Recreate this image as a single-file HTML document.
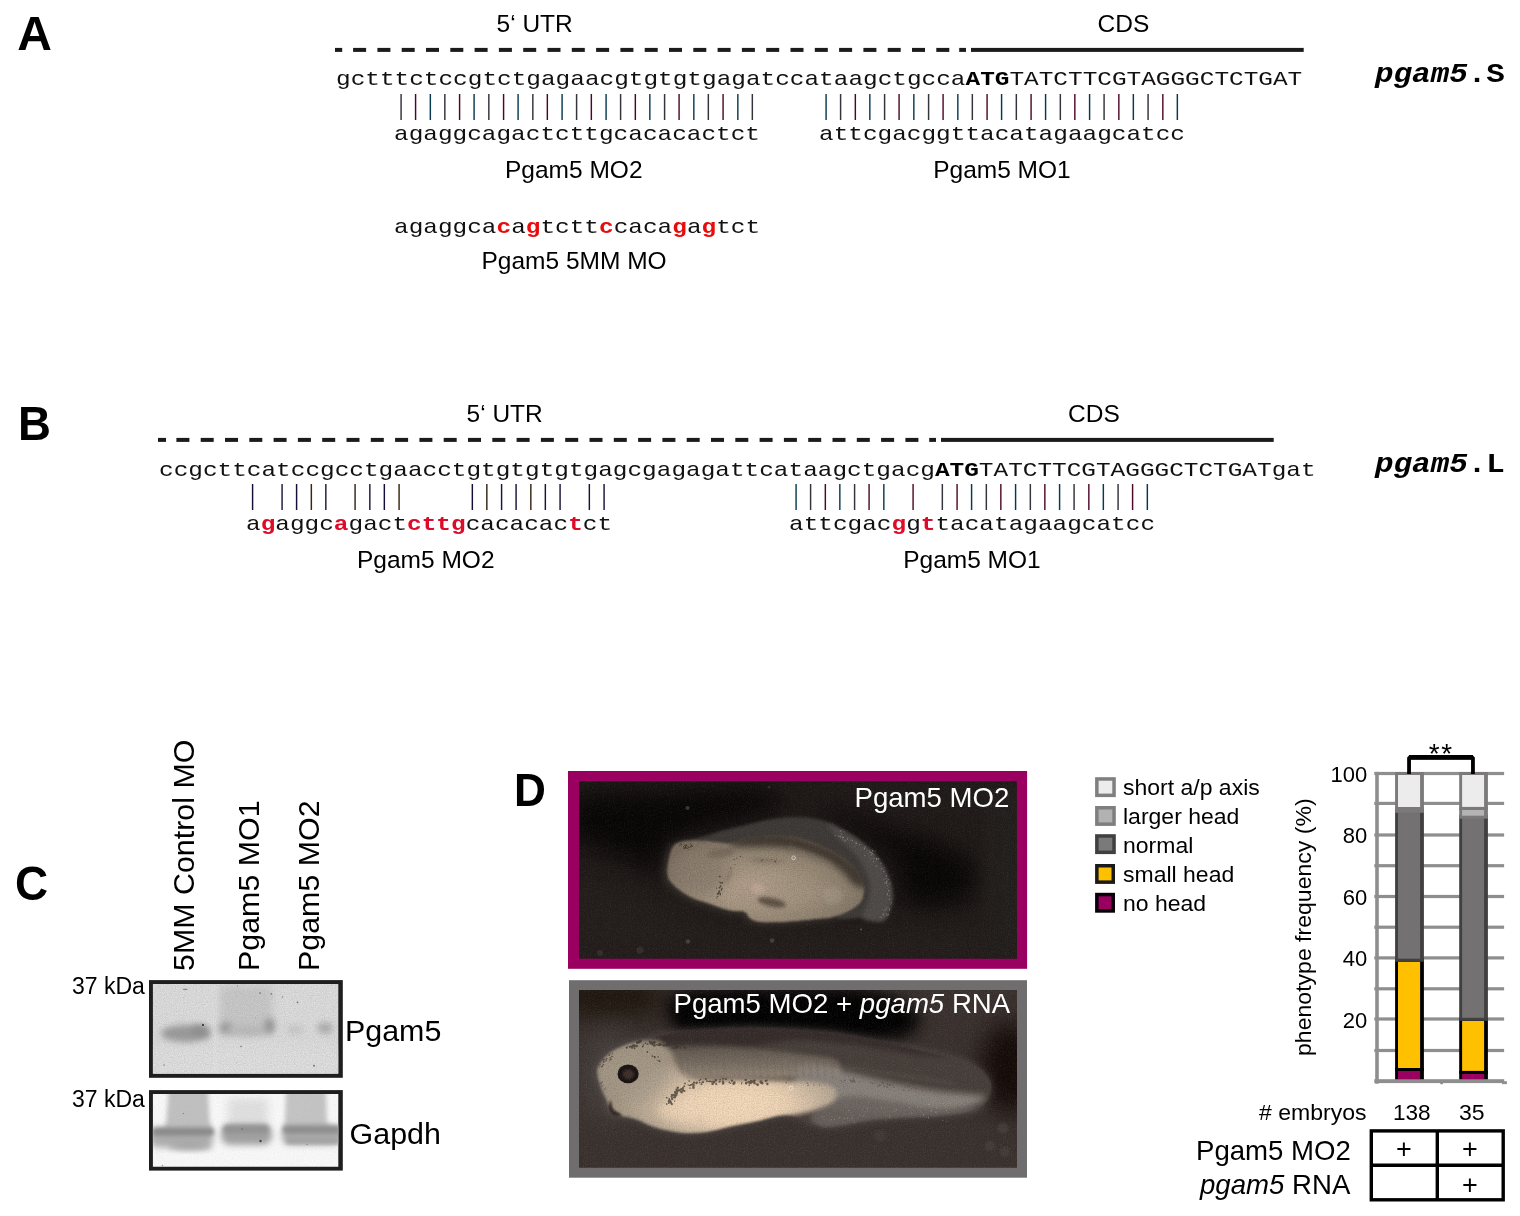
<!DOCTYPE html>
<html lang="en"><head><meta charset="utf-8"><title>Pgam5 morpholino figure</title>
<style>
html,body{margin:0;padding:0;background:#fff;}
#fig{position:relative;width:1520px;height:1216px;overflow:hidden;background:#fff;font-family:"Liberation Sans", sans-serif;color:#000;}
#fig svg{position:absolute;left:0;top:0;}
.t{position:absolute;white-space:pre;line-height:1;margin:0;padding:0;}
.m{font-family:"Liberation Mono", monospace;}
.pl{font-weight:bold;}
.rot{position:absolute;width:0;height:0;transform:rotate(-90deg);transform-origin:0 0;}
b.bk{font-weight:bold;color:#000;}
b.rd{font-weight:bold;color:#e80c0c;}
b.rb{font-weight:bold;color:#de0a28;}
.bars{transform-origin:0 0;}
.bars i{font-style:normal;}
.bars .g{color:#34343c;}
.bars .r{color:#4e0624;}
.bars .c{color:#063850;}
.bars .n{color:#120e38;}
.bars .b{color:#382814;}
.bars .v{color:#1a143c;}
.bars .sp{display:inline-block;width:14.64px;letter-spacing:0;}
</style></head><body><div id="fig">
<svg width="1520" height="1216" viewBox="0 0 1520 1216">
<defs>
<filter id="b0_6" x="-50%" y="-50%" width="200%" height="200%" color-interpolation-filters="sRGB"><feGaussianBlur stdDeviation="0.6"/></filter>
<filter id="b1" x="-50%" y="-50%" width="200%" height="200%" color-interpolation-filters="sRGB"><feGaussianBlur stdDeviation="1"/></filter>
<filter id="b1_5" x="-50%" y="-50%" width="200%" height="200%" color-interpolation-filters="sRGB"><feGaussianBlur stdDeviation="1.5"/></filter>
<filter id="b2" x="-50%" y="-50%" width="200%" height="200%" color-interpolation-filters="sRGB"><feGaussianBlur stdDeviation="2"/></filter>
<filter id="b3" x="-50%" y="-50%" width="200%" height="200%" color-interpolation-filters="sRGB"><feGaussianBlur stdDeviation="3"/></filter>
<filter id="b4" x="-50%" y="-50%" width="200%" height="200%" color-interpolation-filters="sRGB"><feGaussianBlur stdDeviation="4"/></filter>
<filter id="b6" x="-50%" y="-50%" width="200%" height="200%" color-interpolation-filters="sRGB"><feGaussianBlur stdDeviation="6"/></filter>
<filter id="b8" x="-50%" y="-50%" width="200%" height="200%" color-interpolation-filters="sRGB"><feGaussianBlur stdDeviation="8"/></filter>
<filter id="b12" x="-50%" y="-50%" width="200%" height="200%" color-interpolation-filters="sRGB"><feGaussianBlur stdDeviation="12"/></filter>
<filter id="b18" x="-50%" y="-50%" width="200%" height="200%" color-interpolation-filters="sRGB"><feGaussianBlur stdDeviation="18"/></filter>
<filter id="grain" x="0" y="0" width="100%" height="100%" color-interpolation-filters="sRGB"><feTurbulence type="fractalNoise" baseFrequency="0.9" numOctaves="2" seed="7" result="n"/><feColorMatrix in="n" type="matrix" values="0 0 0 0 0.5  0 0 0 0 0.5  0 0 0 0 0.5  0.9 0.9 0.9 0 -0.95"/></filter>
<filter id="grainD" x="0" y="0" width="100%" height="100%" color-interpolation-filters="sRGB"><feTurbulence type="fractalNoise" baseFrequency="0.85" numOctaves="2" seed="3" result="n"/><feColorMatrix in="n" type="matrix" values="0 0 0 0 0  0 0 0 0 0  0 0 0 0 0  1.2 1.2 1.2 0 -1.5"/></filter>
<filter id="grainL" x="0" y="0" width="100%" height="100%" color-interpolation-filters="sRGB"><feTurbulence type="fractalNoise" baseFrequency="0.95" numOctaves="2" seed="11" result="n"/><feColorMatrix in="n" type="matrix" values="0 0 0 0 1  0 0 0 0 1  0 0 0 0 1  1.3 1.3 1.3 0 -1.75"/></filter>
<filter id="blotch" x="0" y="0" width="100%" height="100%" color-interpolation-filters="sRGB"><feTurbulence type="fractalNoise" baseFrequency="0.05" numOctaves="2" seed="5" result="n"/><feColorMatrix in="n" type="matrix" values="0 0 0 0 0  0 0 0 0 0  0 0 0 0 0  1.6 1.6 0 0 -1.25"/></filter>
<clipPath id="cb1"><rect x="152.9" y="984" width="185.4" height="89.8"/></clipPath>
<clipPath id="cb2"><rect x="152.9" y="1094" width="185.4" height="72.7"/></clipPath>
<clipPath id="cp1"><rect x="579.3" y="781.2" width="437.5" height="177.4"/></clipPath>
<clipPath id="cp2"><rect x="579" y="989.9" width="438" height="177.8"/></clipPath>
<radialGradient id="gBody1" cx="0.45" cy="0.62" r="0.62"><stop offset="0" stop-color="#bfa894"/><stop offset="0.3" stop-color="#a99884"/><stop offset="0.65" stop-color="#948673"/><stop offset="1" stop-color="#7d7163"/></radialGradient>
<radialGradient id="gBody2" gradientUnits="userSpaceOnUse" cx="0" cy="0" r="1" gradientTransform="translate(738 1104) scale(125 52)"><stop offset="0" stop-color="#f6dbbc"/><stop offset="0.4" stop-color="#ecd2b4"/><stop offset="0.7" stop-color="#c4b29c"/><stop offset="1" stop-color="#a39583"/></radialGradient>
<linearGradient id="gTrunk" gradientUnits="userSpaceOnUse" x1="0" y1="1044" x2="0" y2="1082"><stop offset="0" stop-color="#5c5249"/><stop offset="0.5" stop-color="#7e7266"/><stop offset="1" stop-color="#a89a88"/></linearGradient>
</defs>
<rect x="149" y="980.1" width="193.8" height="97.7" fill="#1e1e1e"/>
<g clip-path="url(#cb1)">
<rect x="152" y="983" width="188" height="92" fill="#e1e1e1"/>
<rect x="150" y="1048" width="190" height="30" fill="#e4e4e4" filter="url(#b6)"/>
<rect x="212" y="984" width="6" height="90" fill="#e8e8e8" opacity="0.8" filter="url(#b2)"/>
<rect x="220" y="986" width="52" height="48" fill="#c4c4c4" opacity="0.75" filter="url(#b4)"/>
<ellipse cx="186" cy="1033.5" rx="25" ry="8.5" fill="#9c9c9c" filter="url(#b3)"/>
<ellipse cx="200" cy="1030" rx="9" ry="6" fill="#8a8a8a" opacity="0.7" filter="url(#b3)"/>
<ellipse cx="226" cy="1028" rx="7" ry="6" fill="#a0a0a0" filter="url(#b3)"/>
<ellipse cx="247" cy="1031" rx="20" ry="5" fill="#bcbcbc" filter="url(#b3)"/>
<ellipse cx="269.5" cy="1026" rx="5.5" ry="8" fill="#9a9a9a" filter="url(#b3)"/>
<ellipse cx="325" cy="1028" rx="8" ry="5.5" fill="#aeaeae" filter="url(#b3)"/>
<ellipse cx="295" cy="1030" rx="9" ry="5" fill="#cdcdcd" filter="url(#b3)"/>
<rect x="153" y="984" width="186" height="90" filter="url(#grain)" opacity="0.28"/>
<circle cx="203" cy="1025" r="1.1" fill="#2a2a2a"/>
<circle cx="260" cy="993" r="0.9" fill="#8a8a8a"/>
<circle cx="271.3" cy="994" r="1.0" fill="#8a8a8a"/>
<circle cx="282.5" cy="997" r="0.8" fill="#8a8a8a"/>
<circle cx="297.5" cy="1002.3" r="0.9" fill="#777"/>
<circle cx="241" cy="1046.5" r="0.8" fill="#777"/>
<circle cx="164" cy="1065" r="0.8" fill="#888"/>
<circle cx="314" cy="1065.7" r="0.9" fill="#666"/>
<circle cx="237.5" cy="986" r="0.8" fill="#999"/>
<circle cx="255.5" cy="1018" r="0.7" fill="#aaa"/>
<rect x="183" y="988.8" width="4.5" height="1.3" rx="0.6" fill="#888"/>
</g>
<rect x="149" y="1090.1" width="193.8" height="80.5" fill="#1e1e1e"/>
<g clip-path="url(#cb2)">
<rect x="152" y="1093" width="188" height="75" fill="#fbfbfb"/>
<path d="M168.5 1090 L208 1090 L209.5 1120 L213 1132 L163 1132 L166.5 1120Z" fill="#c2c2c2" filter="url(#b2)"/>
<path d="M286 1090 L326 1090 L327 1122 L331 1130 L283 1130 L285 1120Z" fill="#c6c6c6" filter="url(#b2)"/>
<rect x="228" y="1098" width="40" height="28" fill="#e2e2e2" filter="url(#b4)"/>
<rect x="150" y="1127.5" width="63" height="20" rx="8" fill="#b0b0b0" filter="url(#b3)"/>
<rect x="152" y="1128" width="62" height="7.5" rx="3.5" fill="#8a8a8a" filter="url(#b2)"/>
<ellipse cx="190" cy="1146" rx="22" ry="4" fill="#a6a6a6" filter="url(#b3)"/>
<rect x="221" y="1124" width="51" height="21" rx="9" fill="#a3a3a3" filter="url(#b3)"/>
<rect x="223" y="1125" width="46" height="8" rx="4" fill="#909090" opacity="0.85" filter="url(#b2)"/>
<rect x="282" y="1125" width="60" height="20" rx="8" fill="#adadad" filter="url(#b3)"/>
<rect x="283" y="1126" width="58" height="7.5" rx="3.5" fill="#8e8e8e" filter="url(#b2)"/>
<rect x="286" y="1138.5" width="54" height="5" rx="2.5" fill="#a2a2a2" filter="url(#b2)"/>
<rect x="153" y="1094" width="186" height="73" filter="url(#grain)" opacity="0.1"/>
<circle cx="260.5" cy="1141" r="1.2" fill="#444"/>
<circle cx="242" cy="1129" r="0.8" fill="#666"/>
<circle cx="183.3" cy="1113.5" r="0.7" fill="#888"/>
<circle cx="162.5" cy="1165.5" r="0.8" fill="#999"/>
<circle cx="307" cy="1144.5" r="0.7" fill="#888"/>
</g>
<rect x="568" y="771" width="459.1" height="197.8" fill="#99005f"/>
<g clip-path="url(#cp1)">
<rect x="579" y="781" width="438" height="178" fill="#201b19"/>
<path d="M574.1 797.2C588.2 789.2 628.5 792.7 658.8 791.2C689.1 789.7 734.5 786.1 755.7 788.2C776.8 790.2 784.9 798.8 785.9 803.3C786.9 807.8 773.8 811.4 761.7 815.4C749.6 819.4 726.4 824.0 713.3 827.5C700.2 831.0 691.1 833.1 683.0 836.6C674.9 840.1 668.9 842.6 664.9 848.7C660.8 854.7 664.9 870.9 658.8 872.9C652.7 874.9 638.6 864.8 628.5 860.8C618.4 856.8 607.3 852.2 598.3 848.7C589.2 845.2 578.1 848.2 574.1 839.6C570.0 831.0 559.9 805.3 574.1 797.2Z" fill="#090606" filter="url(#b12)"/>
<path d="M810.1 806.3C812.7 804.8 841.4 811.4 855.5 815.4C869.7 819.4 882.3 826.5 894.9 830.5C907.5 834.6 918.6 834.6 931.2 839.6C943.8 844.7 963.0 853.2 970.5 860.8C978.1 868.4 979.1 877.9 976.6 885.0C974.1 892.1 965.5 899.6 955.4 903.2C945.3 906.7 925.6 908.2 916.1 906.2C906.5 904.2 900.9 897.6 897.9 891.1C894.9 884.5 901.4 874.4 897.9 866.9C894.4 859.3 886.3 852.7 876.7 845.7C867.1 838.6 851.5 831.0 840.4 824.5C829.3 817.9 807.6 807.8 810.1 806.3Z" fill="#090606" filter="url(#b12)"/>
<path d="M577.1 885.0C585.7 872.9 613.4 887.0 628.5 891.1C643.7 895.1 649.7 902.7 667.9 909.2C686.0 915.8 713.8 926.4 737.5 930.4C761.2 934.4 782.9 933.4 810.1 933.4C837.4 933.4 875.7 930.9 900.9 930.4C926.2 929.9 941.3 931.9 961.5 930.4C981.6 928.9 1011.9 915.8 1022.0 921.3C1032.1 926.9 1096.1 956.6 1022.0 963.7C947.8 970.8 651.2 976.8 577.1 963.7C502.9 950.6 568.5 897.1 577.1 885.0Z" fill="#241e1c" filter="url(#b12)"/>
<rect x="985" y="790" width="40" height="170" fill="#231f1d" filter="url(#b8)"/>
<clipPath id="cbody1"><path d="M667.4 873.6C666.8 867.9 669.1 856.4 670.8 851.3C672.5 846.2 674.2 844.6 677.6 842.8C681.1 840.9 686.2 840.5 691.3 840.2C696.4 839.9 702.2 840.6 708.4 841.1C714.7 841.5 723.2 843.2 728.9 842.8C734.7 842.3 736.1 839.8 742.6 838.5C749.2 837.2 759.7 835.4 768.3 835.1C776.8 834.8 785.4 835.2 794.0 836.8C802.5 838.3 811.1 840.9 819.6 844.5C828.2 848.0 838.7 853.3 845.3 858.2C851.8 863.0 855.8 868.4 859.0 873.6C862.1 878.7 864.1 883.8 864.1 888.9C864.1 894.1 863.5 899.8 859.0 904.3C854.4 908.9 844.7 913.8 836.7 916.3C828.7 918.9 821.0 918.7 811.1 919.7C801.1 920.7 785.7 922.0 776.8 922.3C768.0 922.6 762.6 922.5 758.0 921.8C753.5 921.1 751.8 919.7 749.5 918.0C747.2 916.4 747.8 913.3 744.3 912.0C740.9 910.8 734.9 911.8 728.9 910.3C723.0 908.9 714.7 905.6 708.4 903.5C702.2 901.4 697.0 900.5 691.3 897.5C685.6 894.5 678.2 889.5 674.2 885.5C670.2 881.5 667.9 879.3 667.4 873.6Z"/></clipPath>
<path d="M667.4 873.6C666.8 867.9 669.1 856.4 670.8 851.3C672.5 846.2 674.2 844.6 677.6 842.8C681.1 840.9 686.2 840.5 691.3 840.2C696.4 839.9 702.2 840.6 708.4 841.1C714.7 841.5 723.2 843.2 728.9 842.8C734.7 842.3 736.1 839.8 742.6 838.5C749.2 837.2 759.7 835.4 768.3 835.1C776.8 834.8 785.4 835.2 794.0 836.8C802.5 838.3 811.1 840.9 819.6 844.5C828.2 848.0 838.7 853.3 845.3 858.2C851.8 863.0 855.8 868.4 859.0 873.6C862.1 878.7 864.1 883.8 864.1 888.9C864.1 894.1 863.5 899.8 859.0 904.3C854.4 908.9 844.7 913.8 836.7 916.3C828.7 918.9 821.0 918.7 811.1 919.7C801.1 920.7 785.7 922.0 776.8 922.3C768.0 922.6 762.6 922.5 758.0 921.8C753.5 921.1 751.8 919.7 749.5 918.0C747.2 916.4 747.8 913.3 744.3 912.0C740.9 910.8 734.9 911.8 728.9 910.3C723.0 908.9 714.7 905.6 708.4 903.5C702.2 901.4 697.0 900.5 691.3 897.5C685.6 894.5 678.2 889.5 674.2 885.5C670.2 881.5 667.9 879.3 667.4 873.6Z" fill="#6a6056" opacity="0.45" filter="url(#b4)" transform="translate(-3,1)"/>
<path d="M691.3 841.1C690.7 839.5 703.3 836.8 708.4 835.1C713.6 833.4 716.4 832.4 722.1 830.8C727.8 829.2 734.9 827.5 742.6 825.7C750.3 823.8 759.7 821.1 768.3 819.7C776.8 818.2 786.8 817.4 794.0 817.1C801.1 816.8 805.4 817.1 811.1 818.0C816.8 818.8 822.5 820.1 828.2 822.2C833.9 824.4 839.6 827.4 845.3 830.8C851.0 834.2 856.7 837.9 862.4 842.8C868.1 847.6 874.9 853.6 879.5 859.9C884.0 866.1 887.6 873.8 889.7 880.4C891.9 887.0 892.9 892.9 892.3 899.2C891.7 905.5 888.7 914.3 886.3 918.0C883.9 921.7 881.8 921.5 877.8 921.5C873.8 921.5 869.2 918.6 862.4 918.0C855.5 917.5 838.1 920.6 836.7 918.0C835.3 915.5 849.8 908.1 853.8 902.6C857.8 897.2 860.7 891.2 860.7 885.5C860.7 879.8 857.8 873.6 853.8 868.4C849.8 863.3 843.8 858.7 836.7 854.7C829.6 850.7 819.6 847.2 811.1 844.5C802.5 841.8 794.0 839.6 785.4 838.5C776.8 837.3 768.0 836.9 759.7 837.6C751.5 838.3 743.8 841.6 735.8 842.8C727.8 843.9 719.3 844.8 711.8 844.5C704.4 844.2 691.9 842.6 691.3 841.1Z" fill="#3e3a37" filter="url(#b1_5)"/>
<path d="M828.2 823.9C829.6 823.1 839.6 829.4 845.3 832.5C851.0 835.6 856.7 838.2 862.4 842.8C868.1 847.3 874.9 853.6 879.5 859.9C884.0 866.1 887.6 873.8 889.7 880.4C891.9 887.0 892.9 892.9 892.3 899.2C891.7 905.5 888.7 914.3 886.3 918.0C883.9 921.7 881.8 921.5 877.8 921.5C873.8 921.5 864.1 921.2 862.4 918.0C860.7 914.9 866.2 908.1 867.5 902.6C868.8 897.2 870.9 891.8 870.1 885.5C869.2 879.3 865.7 871.0 862.4 865.0C859.1 859.0 854.7 854.2 850.4 849.6C846.1 845.0 840.4 841.9 836.7 837.6C833.0 833.4 826.7 824.8 828.2 823.9Z" fill="#565250" opacity="0.75" filter="url(#b2)"/>
<path d="M879.1 858.7a0.4 0.4 0 1 0 0.8 0a0.4 0.4 0 1 0 -0.8 0M871.6 857.8a0.3 0.3 0 1 0 0.7 0a0.3 0.3 0 1 0 -0.7 0M845.5 840.4a0.4 0.4 0 1 0 0.7 0a0.4 0.4 0 1 0 -0.7 0M878.6 876.1a0.3 0.3 0 1 0 0.7 0a0.3 0.3 0 1 0 -0.7 0M880.9 917.5a0.3 0.3 0 1 0 0.7 0a0.3 0.3 0 1 0 -0.7 0M889.1 890.4a0.3 0.3 0 1 0 0.6 0a0.3 0.3 0 1 0 -0.6 0M875.1 850.9a0.5 0.5 0 1 0 1.0 0a0.5 0.5 0 1 0 -1.0 0M841.4 830.8a0.5 0.5 0 1 0 1.1 0a0.5 0.5 0 1 0 -1.1 0M855.9 843.5a0.6 0.6 0 1 0 1.1 0a0.6 0.6 0 1 0 -1.1 0M883.5 871.5a0.5 0.5 0 1 0 0.9 0a0.5 0.5 0 1 0 -0.9 0M890.2 883.0a0.4 0.4 0 1 0 0.7 0a0.4 0.4 0 1 0 -0.7 0M889.2 909.7a0.5 0.5 0 1 0 0.9 0a0.5 0.5 0 1 0 -0.9 0M851.7 840.6a0.6 0.6 0 1 0 1.2 0a0.6 0.6 0 1 0 -1.2 0M844.1 841.1a0.5 0.5 0 1 0 1.1 0a0.5 0.5 0 1 0 -1.1 0M851.6 843.6a0.3 0.3 0 1 0 0.7 0a0.3 0.3 0 1 0 -0.7 0M870.9 852.4a0.3 0.3 0 1 0 0.6 0a0.3 0.3 0 1 0 -0.6 0M886.6 915.3a0.5 0.5 0 1 0 1.1 0a0.5 0.5 0 1 0 -1.1 0M868.4 850.6a0.4 0.4 0 1 0 0.9 0a0.4 0.4 0 1 0 -0.9 0M840.7 834.1a0.5 0.5 0 1 0 1.0 0a0.5 0.5 0 1 0 -1.0 0M876.1 858.3a0.5 0.5 0 1 0 1.1 0a0.5 0.5 0 1 0 -1.1 0M887.0 885.6a0.3 0.3 0 1 0 0.7 0a0.3 0.3 0 1 0 -0.7 0M884.2 916.2a0.4 0.4 0 1 0 0.8 0a0.4 0.4 0 1 0 -0.8 0M881.7 869.2a0.3 0.3 0 1 0 0.6 0a0.3 0.3 0 1 0 -0.6 0M881.2 868.4a0.5 0.5 0 1 0 1.1 0a0.5 0.5 0 1 0 -1.1 0M842.9 837.4a0.5 0.5 0 1 0 1.1 0a0.5 0.5 0 1 0 -1.1 0M882.7 914.4a0.6 0.6 0 1 0 1.1 0a0.6 0.6 0 1 0 -1.1 0M837.8 836.2a0.4 0.4 0 1 0 0.7 0a0.4 0.4 0 1 0 -0.7 0M885.8 883.7a0.4 0.4 0 1 0 0.8 0a0.4 0.4 0 1 0 -0.8 0M887.4 886.1a0.4 0.4 0 1 0 0.9 0a0.4 0.4 0 1 0 -0.9 0M854.3 841.5a0.3 0.3 0 1 0 0.7 0a0.3 0.3 0 1 0 -0.7 0M886.2 909.1a0.5 0.5 0 1 0 0.9 0a0.5 0.5 0 1 0 -0.9 0M885.7 881.3a0.4 0.4 0 1 0 0.8 0a0.4 0.4 0 1 0 -0.8 0M872.9 861.6a0.5 0.5 0 1 0 0.9 0a0.5 0.5 0 1 0 -0.9 0M888.2 879.6a0.5 0.5 0 1 0 1.0 0a0.5 0.5 0 1 0 -1.0 0M839.7 830.4a0.4 0.4 0 1 0 0.8 0a0.4 0.4 0 1 0 -0.8 0M876.4 865.2a0.4 0.4 0 1 0 0.9 0a0.4 0.4 0 1 0 -0.9 0M864.5 846.9a0.6 0.6 0 1 0 1.2 0a0.6 0.6 0 1 0 -1.2 0M883.6 879.2a0.3 0.3 0 1 0 0.6 0a0.3 0.3 0 1 0 -0.6 0M885.8 878.3a0.4 0.4 0 1 0 0.7 0a0.4 0.4 0 1 0 -0.7 0M872.2 850.7a0.6 0.6 0 1 0 1.1 0a0.6 0.6 0 1 0 -1.1 0M842.4 840.8a0.3 0.3 0 1 0 0.6 0a0.3 0.3 0 1 0 -0.6 0M859.2 844.8a0.4 0.4 0 1 0 0.7 0a0.4 0.4 0 1 0 -0.7 0M876.0 859.2a0.5 0.5 0 1 0 0.9 0a0.5 0.5 0 1 0 -0.9 0M887.7 898.2a0.3 0.3 0 1 0 0.6 0a0.3 0.3 0 1 0 -0.6 0M847.1 839.1a0.5 0.5 0 1 0 0.9 0a0.5 0.5 0 1 0 -0.9 0M871.6 853.6a0.6 0.6 0 1 0 1.1 0a0.6 0.6 0 1 0 -1.1 0M842.0 836.7a0.5 0.5 0 1 0 1.0 0a0.5 0.5 0 1 0 -1.0 0M869.3 857.2a0.3 0.3 0 1 0 0.7 0a0.3 0.3 0 1 0 -0.7 0M877.7 866.3a0.3 0.3 0 1 0 0.7 0a0.3 0.3 0 1 0 -0.7 0M877.7 858.9a0.6 0.6 0 1 0 1.1 0a0.6 0.6 0 1 0 -1.1 0M870.9 850.0a0.3 0.3 0 1 0 0.6 0a0.3 0.3 0 1 0 -0.6 0M880.5 863.3a0.5 0.5 0 1 0 1.1 0a0.5 0.5 0 1 0 -1.1 0M847.9 838.7a0.3 0.3 0 1 0 0.7 0a0.3 0.3 0 1 0 -0.7 0M885.8 914.1a0.6 0.6 0 1 0 1.2 0a0.6 0.6 0 1 0 -1.2 0M865.9 851.1a0.4 0.4 0 1 0 0.9 0a0.4 0.4 0 1 0 -0.9 0M842.3 837.4a0.5 0.5 0 1 0 1.0 0a0.5 0.5 0 1 0 -1.0 0M850.4 840.0a0.6 0.6 0 1 0 1.2 0a0.6 0.6 0 1 0 -1.2 0M887.8 914.5a0.5 0.5 0 1 0 0.9 0a0.5 0.5 0 1 0 -0.9 0M884.5 909.8a0.5 0.5 0 1 0 1.0 0a0.5 0.5 0 1 0 -1.0 0M890.9 902.8a0.5 0.5 0 1 0 1.1 0a0.5 0.5 0 1 0 -1.1 0M887.4 893.2a0.4 0.4 0 1 0 0.8 0a0.4 0.4 0 1 0 -0.8 0M861.3 844.6a0.4 0.4 0 1 0 0.8 0a0.4 0.4 0 1 0 -0.8 0M886.0 882.0a0.5 0.5 0 1 0 1.0 0a0.5 0.5 0 1 0 -1.0 0M889.8 903.6a0.3 0.3 0 1 0 0.6 0a0.3 0.3 0 1 0 -0.6 0M888.5 907.9a0.4 0.4 0 1 0 0.8 0a0.4 0.4 0 1 0 -0.8 0M886.7 885.0a0.4 0.4 0 1 0 0.7 0a0.4 0.4 0 1 0 -0.7 0M863.8 848.9a0.5 0.5 0 1 0 1.0 0a0.5 0.5 0 1 0 -1.0 0M881.2 917.2a0.5 0.5 0 1 0 1.0 0a0.5 0.5 0 1 0 -1.0 0M886.6 894.7a0.5 0.5 0 1 0 1.0 0a0.5 0.5 0 1 0 -1.0 0M843.7 831.7a0.5 0.5 0 1 0 1.0 0a0.5 0.5 0 1 0 -1.0 0M855.7 842.6a0.4 0.4 0 1 0 0.8 0a0.4 0.4 0 1 0 -0.8 0M855.7 843.0a0.3 0.3 0 1 0 0.7 0a0.3 0.3 0 1 0 -0.7 0M888.9 899.9a0.3 0.3 0 1 0 0.6 0a0.3 0.3 0 1 0 -0.6 0M884.1 867.5a0.4 0.4 0 1 0 0.8 0a0.4 0.4 0 1 0 -0.8 0M847.2 837.8a0.4 0.4 0 1 0 0.8 0a0.4 0.4 0 1 0 -0.8 0M853.9 846.0a0.4 0.4 0 1 0 0.8 0a0.4 0.4 0 1 0 -0.8 0M886.1 875.7a0.5 0.5 0 1 0 0.9 0a0.5 0.5 0 1 0 -0.9 0M879.6 917.0a0.5 0.5 0 1 0 1.0 0a0.5 0.5 0 1 0 -1.0 0M882.1 909.6a0.3 0.3 0 1 0 0.7 0a0.3 0.3 0 1 0 -0.7 0M873.3 854.8a0.5 0.5 0 1 0 1.1 0a0.5 0.5 0 1 0 -1.1 0M861.3 849.1a0.4 0.4 0 1 0 0.8 0a0.4 0.4 0 1 0 -0.8 0M842.4 839.7a0.5 0.5 0 1 0 1.0 0a0.5 0.5 0 1 0 -1.0 0M855.8 841.6a0.3 0.3 0 1 0 0.7 0a0.3 0.3 0 1 0 -0.7 0M839.6 836.6a0.6 0.6 0 1 0 1.1 0a0.6 0.6 0 1 0 -1.1 0M870.5 859.5a0.4 0.4 0 1 0 0.8 0a0.4 0.4 0 1 0 -0.8 0M840.2 838.1a0.4 0.4 0 1 0 0.9 0a0.4 0.4 0 1 0 -0.9 0M867.5 853.8a0.5 0.5 0 1 0 1.1 0a0.5 0.5 0 1 0 -1.1 0M869.5 852.0a0.6 0.6 0 1 0 1.1 0a0.6 0.6 0 1 0 -1.1 0M890.9 898.9a0.3 0.3 0 1 0 0.6 0a0.3 0.3 0 1 0 -0.6 0M889.4 899.3a0.4 0.4 0 1 0 0.7 0a0.4 0.4 0 1 0 -0.7 0M875.5 866.6a0.5 0.5 0 1 0 1.0 0a0.5 0.5 0 1 0 -1.0 0M887.4 907.0a0.4 0.4 0 1 0 0.7 0a0.4 0.4 0 1 0 -0.7 0M839.7 831.1a0.5 0.5 0 1 0 1.1 0a0.5 0.5 0 1 0 -1.1 0M889.3 895.8a0.5 0.5 0 1 0 1.0 0a0.5 0.5 0 1 0 -1.0 0M834.5 835.5a0.5 0.5 0 1 0 1.0 0a0.5 0.5 0 1 0 -1.0 0M892.1 875.0a0.4 0.4 0 1 0 0.8 0a0.4 0.4 0 1 0 -0.8 0M867.5 850.6a0.4 0.4 0 1 0 0.9 0a0.4 0.4 0 1 0 -0.9 0M886.6 881.1a0.5 0.5 0 1 0 1.0 0a0.5 0.5 0 1 0 -1.0 0M886.3 883.0a0.4 0.4 0 1 0 0.7 0a0.4 0.4 0 1 0 -0.7 0M866.2 842.0a0.3 0.3 0 1 0 0.6 0a0.3 0.3 0 1 0 -0.6 0M889.3 909.2a0.4 0.4 0 1 0 0.7 0a0.4 0.4 0 1 0 -0.7 0M884.6 913.3a0.3 0.3 0 1 0 0.6 0a0.3 0.3 0 1 0 -0.6 0M870.5 855.1a0.6 0.6 0 1 0 1.2 0a0.6 0.6 0 1 0 -1.2 0M884.8 882.8a0.3 0.3 0 1 0 0.7 0a0.3 0.3 0 1 0 -0.7 0M888.2 890.9a0.5 0.5 0 1 0 1.1 0a0.5 0.5 0 1 0 -1.1 0M871.5 852.6a0.4 0.4 0 1 0 0.7 0a0.4 0.4 0 1 0 -0.7 0M855.1 843.6a0.3 0.3 0 1 0 0.7 0a0.3 0.3 0 1 0 -0.7 0M875.5 861.8a0.3 0.3 0 1 0 0.7 0a0.3 0.3 0 1 0 -0.7 0M842.2 838.2a0.3 0.3 0 1 0 0.7 0a0.3 0.3 0 1 0 -0.7 0M884.3 883.1a0.6 0.6 0 1 0 1.2 0a0.6 0.6 0 1 0 -1.2 0M860.5 842.9a0.4 0.4 0 1 0 0.8 0a0.4 0.4 0 1 0 -0.8 0M873.2 858.4a0.6 0.6 0 1 0 1.2 0a0.6 0.6 0 1 0 -1.2 0M888.9 883.8a0.4 0.4 0 1 0 0.7 0a0.4 0.4 0 1 0 -0.7 0M883.6 879.5a0.4 0.4 0 1 0 0.8 0a0.4 0.4 0 1 0 -0.8 0M884.0 910.7a0.3 0.3 0 1 0 0.7 0a0.3 0.3 0 1 0 -0.7 0M863.7 848.4a0.5 0.5 0 1 0 1.1 0a0.5 0.5 0 1 0 -1.1 0M886.6 888.7a0.4 0.4 0 1 0 0.8 0a0.4 0.4 0 1 0 -0.8 0M887.0 894.3a0.5 0.5 0 1 0 0.9 0a0.5 0.5 0 1 0 -0.9 0M887.1 895.1a0.4 0.4 0 1 0 0.8 0a0.4 0.4 0 1 0 -0.8 0M864.3 855.4a0.5 0.5 0 1 0 1.0 0a0.5 0.5 0 1 0 -1.0 0" fill="#c8c8cc" opacity="0.5"/>
<g filter="url(#b1)"><g clip-path="url(#cbody1)">
<path d="M667.4 873.6C666.8 867.9 669.1 856.4 670.8 851.3C672.5 846.2 674.2 844.6 677.6 842.8C681.1 840.9 686.2 840.5 691.3 840.2C696.4 839.9 702.2 840.6 708.4 841.1C714.7 841.5 723.2 843.2 728.9 842.8C734.7 842.3 736.1 839.8 742.6 838.5C749.2 837.2 759.7 835.4 768.3 835.1C776.8 834.8 785.4 835.2 794.0 836.8C802.5 838.3 811.1 840.9 819.6 844.5C828.2 848.0 838.7 853.3 845.3 858.2C851.8 863.0 855.8 868.4 859.0 873.6C862.1 878.7 864.1 883.8 864.1 888.9C864.1 894.1 863.5 899.8 859.0 904.3C854.4 908.9 844.7 913.8 836.7 916.3C828.7 918.9 821.0 918.7 811.1 919.7C801.1 920.7 785.7 922.0 776.8 922.3C768.0 922.6 762.6 922.5 758.0 921.8C753.5 921.1 751.8 919.7 749.5 918.0C747.2 916.4 747.8 913.3 744.3 912.0C740.9 910.8 734.9 911.8 728.9 910.3C723.0 908.9 714.7 905.6 708.4 903.5C702.2 901.4 697.0 900.5 691.3 897.5C685.6 894.5 678.2 889.5 674.2 885.5C670.2 881.5 667.9 879.3 667.4 873.6Z" fill="url(#gBody1)"/>
<path d="M728.9 839.3C732.9 837.2 750.3 834.2 759.7 833.4C769.1 832.5 776.8 832.9 785.4 834.2C794.0 835.5 802.5 838.2 811.1 841.1C819.6 843.9 829.0 847.0 836.7 851.3C844.4 855.6 852.1 861.0 857.2 866.7C862.4 872.4 867.8 882.4 867.5 885.5C867.2 888.7 860.4 888.4 855.5 885.5C850.7 882.7 845.3 873.4 838.4 868.4C831.6 863.4 823.0 859.0 814.5 855.6C805.9 852.2 796.2 849.4 787.1 847.9C778.0 846.4 768.3 846.8 759.7 846.5C751.2 846.2 740.9 847.4 735.8 846.2C730.7 845.0 725.0 841.5 728.9 839.3Z" fill="#3a322a" opacity="0.9" filter="url(#b3)"/>
<path d="M665.7 873.6C665.7 868.4 667.2 856.6 669.1 851.3C670.9 846.0 673.1 844.0 676.8 841.9C680.5 839.9 688.0 838.9 691.3 839.0C694.6 839.1 697.9 841.3 696.4 842.8C695.0 844.2 686.0 845.3 682.8 847.9C679.5 850.5 678.3 853.9 676.8 858.2C675.2 862.4 673.5 869.0 673.4 873.6C673.2 878.1 676.6 884.1 675.9 885.5C675.2 887.0 670.8 884.1 669.1 882.1C667.4 880.1 665.7 878.7 665.7 873.6Z" fill="#786a58" opacity="0.7" filter="url(#b4)"/>
<ellipse cx="698.2" cy="875.3" rx="30" ry="20" fill="#85776a" opacity="0.6" filter="url(#b6)"/>
<ellipse cx="785.4" cy="892.4" rx="50" ry="13" fill="#a39280" opacity="0.5" filter="url(#b4)"/>
<ellipse cx="720.4" cy="853.0" rx="13.7" ry="4.8" fill="#74685a" opacity="0.8" transform="rotate(-8 720.4 853.0)" filter="url(#b1_5)"/>
<ellipse cx="771.7" cy="902.3" rx="14.5" ry="4.4" fill="#54483e" opacity="0.85" transform="rotate(12 771.7 902.3)" filter="url(#b1_5)"/>
<ellipse cx="764.9" cy="860.7" rx="15.4" ry="2.7" fill="#807264" opacity="0.6" transform="rotate(5 764.9 860.7)" filter="url(#b1_5)"/>
<ellipse cx="728.9" cy="875.3" rx="2.1" ry="8.6" fill="#807264" opacity="0.6" transform="rotate(25 728.9 875.3)" filter="url(#b1_5)"/>
<ellipse cx="811.1" cy="856.4" rx="25.7" ry="3.1" fill="#84786a" opacity="0.5" transform="rotate(22 811.1 856.4)" filter="url(#b1_5)"/>
<ellipse cx="758.0" cy="888.9" rx="6.8" ry="6.0" fill="#c6ac9a" opacity="0.7" transform="rotate(0 758.0 888.9)" filter="url(#b1_5)"/>
<ellipse cx="833.3" cy="895.8" rx="10.3" ry="8.6" fill="#aa9c8a" opacity="0.5" transform="rotate(0 833.3 895.8)" filter="url(#b1_5)"/>
</g></g>
<path d="M685.1 847.0a0.5 0.5 0 1 0 1.1 0a0.5 0.5 0 1 0 -1.1 0M684.0 845.6a0.7 0.7 0 1 0 1.4 0a0.7 0.7 0 1 0 -1.4 0M691.0 846.2a0.9 0.9 0 1 0 1.8 0a0.9 0.9 0 1 0 -1.8 0M689.7 843.8a0.6 0.6 0 1 0 1.2 0a0.6 0.6 0 1 0 -1.2 0M680.0 843.9a0.5 0.5 0 1 0 1.1 0a0.5 0.5 0 1 0 -1.1 0M683.9 845.0a0.6 0.6 0 1 0 1.2 0a0.6 0.6 0 1 0 -1.2 0M688.1 849.4a0.5 0.5 0 1 0 1.0 0a0.5 0.5 0 1 0 -1.0 0M687.1 848.6a0.5 0.5 0 1 0 1.0 0a0.5 0.5 0 1 0 -1.0 0M688.6 847.4a0.5 0.5 0 1 0 1.1 0a0.5 0.5 0 1 0 -1.1 0M685.1 847.5a0.7 0.7 0 1 0 1.4 0a0.7 0.7 0 1 0 -1.4 0M685.7 845.0a0.8 0.8 0 1 0 1.7 0a0.8 0.8 0 1 0 -1.7 0M686.1 848.2a0.6 0.6 0 1 0 1.3 0a0.6 0.6 0 1 0 -1.3 0M689.8 846.7a0.6 0.6 0 1 0 1.3 0a0.6 0.6 0 1 0 -1.3 0M687.3 846.9a0.6 0.6 0 1 0 1.3 0a0.6 0.6 0 1 0 -1.3 0M687.7 846.9a0.5 0.5 0 1 0 1.1 0a0.5 0.5 0 1 0 -1.1 0M683.5 848.2a0.8 0.8 0 1 0 1.5 0a0.8 0.8 0 1 0 -1.5 0M682.9 846.6a0.5 0.5 0 1 0 1.1 0a0.5 0.5 0 1 0 -1.1 0M685.1 845.7a0.7 0.7 0 1 0 1.3 0a0.7 0.7 0 1 0 -1.3 0M679.1 845.3a0.6 0.6 0 1 0 1.3 0a0.6 0.6 0 1 0 -1.3 0M684.2 847.9a0.6 0.6 0 1 0 1.1 0a0.6 0.6 0 1 0 -1.1 0M690.9 845.0a0.6 0.6 0 1 0 1.3 0a0.6 0.6 0 1 0 -1.3 0M680.7 844.4a0.7 0.7 0 1 0 1.4 0a0.7 0.7 0 1 0 -1.4 0" fill="#3e362c" opacity="0.8" filter="url(#b0_6)"/>
<path d="M718.8 891.1a0.7 0.7 0 1 0 1.3 0a0.7 0.7 0 1 0 -1.3 0M721.7 883.1a0.6 0.6 0 1 0 1.1 0a0.6 0.6 0 1 0 -1.1 0M716.3 898.0a0.6 0.6 0 1 0 1.3 0a0.6 0.6 0 1 0 -1.3 0M720.1 886.8a0.7 0.7 0 1 0 1.4 0a0.7 0.7 0 1 0 -1.4 0M719.7 885.9a0.8 0.8 0 1 0 1.6 0a0.8 0.8 0 1 0 -1.6 0M718.8 887.7a0.5 0.5 0 1 0 1.1 0a0.5 0.5 0 1 0 -1.1 0M719.0 887.8a0.6 0.6 0 1 0 1.3 0a0.6 0.6 0 1 0 -1.3 0M717.1 896.4a0.7 0.7 0 1 0 1.4 0a0.7 0.7 0 1 0 -1.4 0M717.3 894.0a0.8 0.8 0 1 0 1.7 0a0.8 0.8 0 1 0 -1.7 0M721.4 888.4a0.7 0.7 0 1 0 1.5 0a0.7 0.7 0 1 0 -1.5 0M718.8 887.4a0.6 0.6 0 1 0 1.3 0a0.6 0.6 0 1 0 -1.3 0M721.5 883.1a0.5 0.5 0 1 0 1.1 0a0.5 0.5 0 1 0 -1.1 0M719.9 882.7a0.7 0.7 0 1 0 1.4 0a0.7 0.7 0 1 0 -1.4 0M719.6 894.3a0.8 0.8 0 1 0 1.5 0a0.8 0.8 0 1 0 -1.5 0M719.0 882.0a0.6 0.6 0 1 0 1.2 0a0.6 0.6 0 1 0 -1.2 0M719.1 876.6a0.8 0.8 0 1 0 1.5 0a0.8 0.8 0 1 0 -1.5 0M721.3 883.2a0.6 0.6 0 1 0 1.3 0a0.6 0.6 0 1 0 -1.3 0M718.0 892.4a0.9 0.9 0 1 0 1.7 0a0.9 0.9 0 1 0 -1.7 0M721.8 882.4a0.6 0.6 0 1 0 1.2 0a0.6 0.6 0 1 0 -1.2 0M716.6 893.9a0.9 0.9 0 1 0 1.8 0a0.9 0.9 0 1 0 -1.8 0M719.6 893.3a0.6 0.6 0 1 0 1.1 0a0.6 0.6 0 1 0 -1.1 0M720.8 889.5a0.6 0.6 0 1 0 1.3 0a0.6 0.6 0 1 0 -1.3 0M721.3 882.8a0.8 0.8 0 1 0 1.6 0a0.8 0.8 0 1 0 -1.6 0M716.0 888.2a0.6 0.6 0 1 0 1.3 0a0.6 0.6 0 1 0 -1.3 0M717.2 893.9a0.7 0.7 0 1 0 1.3 0a0.7 0.7 0 1 0 -1.3 0M720.7 890.2a0.7 0.7 0 1 0 1.4 0a0.7 0.7 0 1 0 -1.4 0" fill="#3e362c" opacity="0.8" filter="url(#b0_6)"/>
<path d="M734.8 864.8a0.5 0.5 0 1 0 1.0 0a0.5 0.5 0 1 0 -1.0 0M740.0 856.6a0.6 0.6 0 1 0 1.3 0a0.6 0.6 0 1 0 -1.3 0M766.4 859.9a0.6 0.6 0 1 0 1.2 0a0.6 0.6 0 1 0 -1.2 0M771.0 859.4a0.7 0.7 0 1 0 1.4 0a0.7 0.7 0 1 0 -1.4 0M760.7 860.7a0.7 0.7 0 1 0 1.4 0a0.7 0.7 0 1 0 -1.4 0M736.0 858.3a0.7 0.7 0 1 0 1.4 0a0.7 0.7 0 1 0 -1.4 0M781.1 860.3a0.4 0.4 0 1 0 0.8 0a0.4 0.4 0 1 0 -0.8 0M762.1 859.7a0.6 0.6 0 1 0 1.3 0a0.6 0.6 0 1 0 -1.3 0M729.9 867.9a0.7 0.7 0 1 0 1.4 0a0.7 0.7 0 1 0 -1.4 0M739.6 856.3a0.6 0.6 0 1 0 1.2 0a0.6 0.6 0 1 0 -1.2 0M733.4 859.5a0.6 0.6 0 1 0 1.1 0a0.6 0.6 0 1 0 -1.1 0M776.2 859.1a0.5 0.5 0 1 0 1.0 0a0.5 0.5 0 1 0 -1.0 0M774.4 861.4a0.8 0.8 0 1 0 1.5 0a0.8 0.8 0 1 0 -1.5 0M779.4 861.2a0.5 0.5 0 1 0 1.0 0a0.5 0.5 0 1 0 -1.0 0" fill="#4a4036" opacity="0.7" filter="url(#b0_6)"/>
<circle cx="793.6" cy="857.8" r="1.8" fill="none" stroke="#f2efe8" stroke-width="0.7"/>
<rect x="579" y="781" width="438" height="178" filter="url(#grainD)" opacity="0.13"/>
<rect x="579" y="781" width="438" height="178" filter="url(#grainL)" opacity="0.06"/>
<circle cx="687.5" cy="808" r="2.0" fill="#8a8c92" opacity="0.35" filter="url(#b0_6)"/>
<circle cx="769" cy="787" r="1.6" fill="#8a8c92" opacity="0.2" filter="url(#b0_6)"/>
<circle cx="688" cy="941.5" r="2.2" fill="#8a8c92" opacity="0.3" filter="url(#b0_6)"/>
<circle cx="861" cy="929.5" r="1.0" fill="#8a8c92" opacity="0.5" filter="url(#b0_6)"/>
<circle cx="600" cy="953" r="3" fill="#8a8c92" opacity="0.15" filter="url(#b0_6)"/>
<circle cx="640" cy="950" r="3.5" fill="#8a8c92" opacity="0.15" filter="url(#b0_6)"/>
<circle cx="772" cy="940.5" r="2.2" fill="#8a8c92" opacity="0.3" filter="url(#b0_6)"/>
</g>
<rect x="569" y="980.2" width="458" height="197.5" fill="#6f6d6d"/>
<g clip-path="url(#cp2)">
<rect x="579" y="989" width="438" height="180" fill="#3b322f"/>
<path d="M673.9 993.1C692.1 987.1 747.1 987.6 779.9 987.1C812.7 986.6 848.0 986.1 870.7 990.1C893.4 994.1 909.0 1004.2 916.1 1011.3C923.1 1018.4 920.6 1027.2 913.0 1032.5C905.5 1037.8 887.8 1042.3 870.7 1043.1C853.5 1043.8 830.3 1038.5 810.1 1037.0C790.0 1035.5 768.8 1034.0 749.6 1034.0C730.4 1034.0 708.2 1038.8 695.1 1037.0C682.0 1035.3 674.4 1030.7 670.9 1023.4C667.4 1016.1 655.8 999.2 673.9 993.1Z" fill="#030202" filter="url(#b8)"/>
<ellipse cx="1010" cy="1068" rx="30" ry="46" fill="#150b09" filter="url(#b12)"/>
<rect x="560" y="975" width="100" height="42" fill="#20170f" filter="url(#b12)"/>
<ellipse cx="610" cy="1075" rx="30" ry="45" fill="#4a4340" opacity="0.8" filter="url(#b12)"/>
<clipPath id="cbody2"><path d="M597.0 1073.0C596.8 1068.8 598.0 1066.3 600.4 1062.8C602.8 1059.2 606.5 1054.9 611.5 1051.6C616.5 1048.4 623.8 1045.4 630.3 1043.1C636.9 1040.8 643.4 1039.8 650.8 1038.0C658.3 1036.1 665.4 1033.5 674.8 1032.0C684.2 1030.5 694.7 1029.6 707.3 1028.9C719.8 1028.2 738.1 1027.8 750.1 1027.7C762.0 1027.6 766.4 1027.9 779.1 1028.6C791.9 1029.2 813.2 1030.3 826.4 1031.6C839.5 1032.9 847.4 1034.5 858.0 1036.3C868.5 1038.2 879.0 1040.3 889.5 1042.6C900.1 1045.0 910.6 1048.0 921.1 1050.5C931.6 1053.0 943.5 1055.0 952.7 1057.6C961.9 1060.3 970.3 1062.8 976.4 1066.3C982.4 1069.9 986.6 1074.7 989.0 1079.0C991.4 1083.2 991.6 1087.1 990.6 1091.6C989.5 1096.1 986.4 1102.4 982.7 1105.8C979.0 1109.2 976.1 1110.4 968.5 1112.1C960.9 1113.8 947.4 1115.1 936.9 1116.1C926.4 1117.0 915.8 1117.0 905.3 1117.6C894.8 1118.3 883.0 1119.0 873.7 1120.0C864.5 1121.1 857.4 1122.8 850.1 1124.0C842.7 1125.1 834.8 1126.8 829.5 1127.1C824.3 1127.4 822.2 1126.5 818.5 1125.5C814.8 1124.6 811.4 1123.2 807.4 1121.6C803.5 1120.0 799.5 1117.0 794.8 1116.1C790.1 1115.1 785.2 1115.0 779.1 1115.8C773.1 1116.6 766.3 1119.2 758.6 1120.9C750.9 1122.6 741.5 1124.2 733.0 1126.1C724.4 1127.9 715.8 1130.9 707.3 1132.0C698.7 1133.2 690.2 1133.6 681.6 1132.9C673.1 1132.2 663.7 1130.0 656.0 1127.8C648.3 1125.5 641.4 1121.2 635.4 1119.2C629.5 1117.2 624.2 1116.8 620.1 1115.8C615.9 1114.8 612.8 1115.5 610.6 1113.2C608.5 1110.9 608.8 1106.2 607.2 1102.1C605.7 1098.0 602.9 1093.3 601.2 1088.4C599.5 1083.6 597.1 1077.3 597.0 1073.0Z"/></clipPath>
<path d="M597.0 1073.0C596.8 1068.8 598.0 1066.3 600.4 1062.8C602.8 1059.2 606.5 1054.9 611.5 1051.6C616.5 1048.4 623.8 1045.4 630.3 1043.1C636.9 1040.8 643.4 1039.8 650.8 1038.0C658.3 1036.1 665.4 1033.5 674.8 1032.0C684.2 1030.5 694.7 1029.6 707.3 1028.9C719.8 1028.2 738.1 1027.8 750.1 1027.7C762.0 1027.6 766.4 1027.9 779.1 1028.6C791.9 1029.2 813.2 1030.3 826.4 1031.6C839.5 1032.9 847.4 1034.5 858.0 1036.3C868.5 1038.2 879.0 1040.3 889.5 1042.6C900.1 1045.0 910.6 1048.0 921.1 1050.5C931.6 1053.0 943.5 1055.0 952.7 1057.6C961.9 1060.3 970.3 1062.8 976.4 1066.3C982.4 1069.9 986.6 1074.7 989.0 1079.0C991.4 1083.2 991.6 1087.1 990.6 1091.6C989.5 1096.1 986.4 1102.4 982.7 1105.8C979.0 1109.2 976.1 1110.4 968.5 1112.1C960.9 1113.8 947.4 1115.1 936.9 1116.1C926.4 1117.0 915.8 1117.0 905.3 1117.6C894.8 1118.3 883.0 1119.0 873.7 1120.0C864.5 1121.1 857.4 1122.8 850.1 1124.0C842.7 1125.1 834.8 1126.8 829.5 1127.1C824.3 1127.4 822.2 1126.5 818.5 1125.5C814.8 1124.6 811.4 1123.2 807.4 1121.6C803.5 1120.0 799.5 1117.0 794.8 1116.1C790.1 1115.1 785.2 1115.0 779.1 1115.8C773.1 1116.6 766.3 1119.2 758.6 1120.9C750.9 1122.6 741.5 1124.2 733.0 1126.1C724.4 1127.9 715.8 1130.9 707.3 1132.0C698.7 1133.2 690.2 1133.6 681.6 1132.9C673.1 1132.2 663.7 1130.0 656.0 1127.8C648.3 1125.5 641.4 1121.2 635.4 1119.2C629.5 1117.2 624.2 1116.8 620.1 1115.8C615.9 1114.8 612.8 1115.5 610.6 1113.2C608.5 1110.9 608.8 1106.2 607.2 1102.1C605.7 1098.0 602.9 1093.3 601.2 1088.4C599.5 1083.6 597.1 1077.3 597.0 1073.0Z" fill="#8a8480" opacity="0.4" filter="url(#b4)"/>
<g filter="url(#b1)"><g clip-path="url(#cbody2)">
<path d="M597.0 1073.0C596.8 1068.8 598.0 1066.3 600.4 1062.8C602.8 1059.2 606.5 1054.9 611.5 1051.6C616.5 1048.4 623.8 1045.4 630.3 1043.1C636.9 1040.8 643.4 1039.8 650.8 1038.0C658.3 1036.1 665.4 1033.5 674.8 1032.0C684.2 1030.5 694.7 1029.6 707.3 1028.9C719.8 1028.2 738.1 1027.8 750.1 1027.7C762.0 1027.6 766.4 1027.9 779.1 1028.6C791.9 1029.2 813.2 1030.3 826.4 1031.6C839.5 1032.9 847.4 1034.5 858.0 1036.3C868.5 1038.2 879.0 1040.3 889.5 1042.6C900.1 1045.0 910.6 1048.0 921.1 1050.5C931.6 1053.0 943.5 1055.0 952.7 1057.6C961.9 1060.3 970.3 1062.8 976.4 1066.3C982.4 1069.9 986.6 1074.7 989.0 1079.0C991.4 1083.2 991.6 1087.1 990.6 1091.6C989.5 1096.1 986.4 1102.4 982.7 1105.8C979.0 1109.2 976.1 1110.4 968.5 1112.1C960.9 1113.8 947.4 1115.1 936.9 1116.1C926.4 1117.0 915.8 1117.0 905.3 1117.6C894.8 1118.3 883.0 1119.0 873.7 1120.0C864.5 1121.1 857.4 1122.8 850.1 1124.0C842.7 1125.1 834.8 1126.8 829.5 1127.1C824.3 1127.4 822.2 1126.5 818.5 1125.5C814.8 1124.6 811.4 1123.2 807.4 1121.6C803.5 1120.0 799.5 1117.0 794.8 1116.1C790.1 1115.1 785.2 1115.0 779.1 1115.8C773.1 1116.6 766.3 1119.2 758.6 1120.9C750.9 1122.6 741.5 1124.2 733.0 1126.1C724.4 1127.9 715.8 1130.9 707.3 1132.0C698.7 1133.2 690.2 1133.6 681.6 1132.9C673.1 1132.2 663.7 1130.0 656.0 1127.8C648.3 1125.5 641.4 1121.2 635.4 1119.2C629.5 1117.2 624.2 1116.8 620.1 1115.8C615.9 1114.8 612.8 1115.5 610.6 1113.2C608.5 1110.9 608.8 1106.2 607.2 1102.1C605.7 1098.0 602.9 1093.3 601.2 1088.4C599.5 1083.6 597.1 1077.3 597.0 1073.0Z" fill="#483f3b"/>
<path d="M644.0 1037.1C647.1 1034.5 664.2 1031.9 674.8 1030.3C685.3 1028.6 694.7 1027.9 707.3 1027.2C719.8 1026.5 738.1 1026.0 750.1 1026.0C762.0 1025.9 766.4 1026.2 779.1 1026.8C791.9 1027.5 813.2 1028.7 826.4 1030.0C839.5 1031.3 847.4 1032.9 858.0 1034.7C868.5 1036.6 879.0 1038.7 889.5 1041.1C900.1 1043.4 911.1 1046.6 921.1 1048.9C931.1 1051.3 949.5 1054.2 949.5 1055.3C949.5 1056.3 931.1 1056.2 921.1 1055.3C911.1 1054.3 900.1 1051.5 889.5 1049.7C879.0 1048.0 868.5 1046.3 858.0 1045.0C847.4 1043.7 836.9 1042.7 826.4 1041.8C815.8 1041.0 807.5 1039.1 794.8 1039.8C782.1 1040.5 763.2 1045.3 750.1 1046.0C736.9 1046.8 727.2 1044.6 715.8 1044.3C704.4 1044.0 691.6 1044.1 681.6 1044.3C671.7 1044.5 662.2 1046.9 656.0 1045.7C649.7 1044.5 640.9 1039.7 644.0 1037.1Z" fill="#362d2b" opacity="0.95" filter="url(#b2)"/>
<path d="M667.9 1049.1C673.7 1046.5 687.9 1047.7 698.7 1047.4C709.6 1047.1 721.5 1046.9 733.0 1047.4C744.4 1047.8 755.8 1048.8 767.2 1049.9C778.6 1051.1 790.0 1052.5 801.4 1054.2C812.8 1055.9 829.3 1056.5 835.6 1060.2C841.9 1063.9 843.3 1073.7 839.0 1076.4C834.7 1079.2 820.5 1076.2 809.9 1076.4C799.4 1076.7 788.5 1077.9 775.7 1078.2C762.9 1078.4 745.8 1078.2 733.0 1078.2C720.1 1078.2 708.4 1078.4 698.7 1078.2C689.0 1077.9 680.5 1079.0 674.8 1076.4C669.1 1073.9 665.7 1067.3 664.5 1062.8C663.4 1058.2 662.2 1051.6 667.9 1049.1Z" fill="url(#gTrunk)" opacity="0.97" filter="url(#b2)"/>
<path d="M802.7 1066.3C810.6 1064.5 827.7 1068.4 842.2 1071.1C856.6 1073.7 873.7 1078.8 889.5 1082.1C905.3 1085.4 922.4 1088.7 936.9 1090.8C951.4 1092.9 968.2 1093.6 976.4 1094.7C984.5 1095.9 987.2 1095.8 985.9 1097.9C984.5 1100.0 976.6 1105.0 968.5 1107.4C960.3 1109.7 950.1 1111.2 936.9 1112.1C923.7 1113.0 905.3 1113.4 889.5 1112.9C873.7 1112.4 855.3 1111.5 842.2 1109.0C829.0 1106.5 818.5 1102.4 810.6 1097.9C802.7 1093.4 796.1 1087.4 794.8 1082.1C793.5 1076.8 794.8 1068.2 802.7 1066.3Z" fill="#8e8680" opacity="0.95" filter="url(#b3)"/>
<path d="M810.6 1116.8C811.9 1113.2 819.8 1107.6 826.4 1104.2C833.0 1100.8 839.5 1096.8 850.1 1096.3C860.6 1095.8 875.1 1099.0 889.5 1101.1C904.0 1103.2 922.4 1107.6 936.9 1109.0C951.4 1110.3 971.1 1108.3 976.4 1109.0C981.6 1109.6 975.1 1111.6 968.5 1112.9C961.9 1114.2 947.4 1115.9 936.9 1116.8C926.4 1117.8 915.8 1117.8 905.3 1118.4C894.8 1119.1 883.0 1119.7 873.7 1120.8C864.5 1121.8 857.4 1123.6 850.1 1124.7C842.7 1125.9 834.8 1127.6 829.5 1127.9C824.3 1128.2 821.6 1128.2 818.5 1126.3C815.3 1124.5 809.3 1120.5 810.6 1116.8Z" fill="#6c6460" opacity="0.9" filter="url(#b2)"/>
<path d="M595.3 1073.0C595.1 1068.6 596.1 1065.8 598.7 1061.9C601.2 1058.1 605.4 1053.2 610.6 1049.9C615.9 1046.7 624.2 1043.9 630.3 1042.2C636.4 1040.6 642.3 1040.2 647.4 1040.2C652.6 1040.2 657.1 1040.2 661.1 1042.2C665.1 1044.3 668.8 1048.5 671.4 1052.5C673.9 1056.5 673.7 1062.1 676.5 1066.2C679.4 1070.3 681.9 1075.0 688.5 1077.3C695.0 1079.6 705.6 1079.4 715.8 1079.9C726.1 1080.3 738.7 1079.7 750.1 1079.9C761.5 1080.0 772.9 1080.2 784.3 1080.7C795.7 1081.2 809.9 1081.7 818.5 1082.9C827.0 1084.2 833.0 1085.5 835.6 1088.4C838.2 1091.3 836.7 1097.0 833.9 1100.4C831.0 1103.8 824.2 1106.7 818.5 1108.9C812.8 1111.2 806.2 1112.7 799.7 1114.1C793.1 1115.5 786.0 1116.1 779.1 1117.5C772.3 1118.9 766.3 1120.9 758.6 1122.6C750.9 1124.3 741.5 1125.9 733.0 1127.8C724.4 1129.6 715.8 1132.6 707.3 1133.8C698.7 1134.9 690.2 1135.3 681.6 1134.6C673.1 1133.9 663.7 1131.8 656.0 1129.5C648.3 1127.2 641.4 1122.9 635.4 1120.9C629.5 1118.9 624.5 1118.6 620.1 1117.5C615.6 1116.4 611.4 1116.6 608.9 1114.1C606.5 1111.5 607.1 1106.4 605.5 1102.1C603.9 1097.8 601.2 1093.3 599.5 1088.4C597.8 1083.6 595.4 1077.4 595.3 1073.0Z" fill="url(#gBody2)" filter="url(#b2)"/>
<ellipse cx="719.3" cy="1107.2" rx="62" ry="16" fill="#f6dbbc" opacity="0.6" filter="url(#b4)" transform="rotate(-4 719.3 1107.2)"/>
<ellipse cx="635.4" cy="1076.4" rx="30" ry="26" fill="#a89c8b" opacity="0.6" filter="url(#b6)"/>
<path d="M685.1 1047.0C685.1 1046.6 705.0 1048.2 715.8 1048.7C726.7 1049.3 738.7 1049.6 750.1 1050.4C761.5 1051.3 770.0 1052.0 784.3 1053.9C798.5 1055.7 827.0 1059.9 835.6 1061.6C844.1 1063.3 844.1 1065.0 835.6 1064.1C827.0 1063.3 798.5 1058.3 784.3 1056.4C770.0 1054.6 761.5 1053.9 750.1 1053.0C738.7 1052.1 726.7 1052.1 715.8 1051.1C705.0 1050.1 685.1 1047.4 685.1 1047.0Z" fill="#6a645c" opacity="0.5" filter="url(#b1_5)"/>
<path d="M834.3 1063.2C840.8 1063.7 860.6 1067.4 873.7 1069.5C886.9 1071.6 900.1 1073.7 913.2 1075.8C926.4 1077.9 946.1 1080.7 952.7 1082.1C959.3 1083.6 959.3 1085.0 952.7 1084.5C946.1 1084.0 926.4 1080.9 913.2 1079.0C900.1 1077.0 886.9 1074.7 873.7 1072.6C860.6 1070.5 840.8 1067.9 834.3 1066.3C827.7 1064.7 827.7 1062.6 834.3 1063.2Z" fill="#5e5852" opacity="0.5" filter="url(#b1_5)"/>
<path d="M681.6 1049.9q-2.2 11 0.8 24.0M688.8 1050.3q-2.2 11 0.8 23.9M696.0 1050.7q-2.2 11 0.8 23.7M703.2 1051.1q-2.2 11 0.8 23.6M710.4 1051.4q-2.2 11 0.8 23.4M717.6 1051.8q-2.2 11 0.8 23.2M724.7 1052.2q-2.2 11 0.8 23.1M731.9 1052.6q-2.2 11 0.8 22.9M739.1 1052.9q-2.2 11 0.8 22.8M746.3 1053.3q-2.2 11 0.8 22.6M753.5 1053.7q-2.2 11 0.8 22.5M760.7 1054.1q-2.2 11 0.8 22.4M767.8 1054.5q-2.2 11 0.8 22.2M775.0 1054.8q-2.2 11 0.8 22.1M782.2 1055.2q-2.2 11 0.8 21.9M789.4 1055.6q-2.2 11 0.8 21.8M796.6 1056.0q-2.2 11 0.8 21.6M803.8 1056.3q-2.2 11 0.8 21.4M811.0 1056.7q-2.2 11 0.8 21.3M818.1 1057.1q-2.2 11 0.8 21.1M825.3 1057.5q-2.2 11 0.8 21.0M832.5 1057.8q-2.2 11 0.8 20.9" fill="none" stroke="#6a6258" stroke-width="1.8" opacity="0.5" filter="url(#b1)"/>
</g></g>
<path d="M678.8 1042.8a1.1 1.1 0 1 0 2.2 0a1.1 1.1 0 1 0 -2.2 0M682.6 1044.0a1.2 1.2 0 1 0 2.5 0a1.2 1.2 0 1 0 -2.5 0M652.9 1042.7a1.3 1.3 0 1 0 2.5 0a1.3 1.3 0 1 0 -2.5 0M658.2 1043.6a0.8 0.8 0 1 0 1.7 0a0.8 0.8 0 1 0 -1.7 0M644.5 1043.2a0.8 0.8 0 1 0 1.6 0a0.8 0.8 0 1 0 -1.6 0M633.8 1048.3a0.8 0.8 0 1 0 1.5 0a0.8 0.8 0 1 0 -1.5 0M667.2 1044.5a1.1 1.1 0 1 0 2.2 0a1.1 1.1 0 1 0 -2.2 0M635.4 1046.1a1.2 1.2 0 1 0 2.5 0a1.2 1.2 0 1 0 -2.5 0M679.8 1047.5a0.7 0.7 0 1 0 1.3 0a0.7 0.7 0 1 0 -1.3 0M651.3 1043.3a0.7 0.7 0 1 0 1.4 0a0.7 0.7 0 1 0 -1.4 0M657.3 1044.9a1.2 1.2 0 1 0 2.4 0a1.2 1.2 0 1 0 -2.4 0M662.4 1042.4a0.7 0.7 0 1 0 1.4 0a0.7 0.7 0 1 0 -1.4 0M631.3 1047.6a1.1 1.1 0 1 0 2.2 0a1.1 1.1 0 1 0 -2.2 0M675.5 1043.5a1.0 1.0 0 1 0 2.0 0a1.0 1.0 0 1 0 -2.0 0M662.4 1045.5a1.2 1.2 0 1 0 2.4 0a1.2 1.2 0 1 0 -2.4 0M675.8 1043.5a0.7 0.7 0 1 0 1.3 0a0.7 0.7 0 1 0 -1.3 0M644.9 1043.6a0.7 0.7 0 1 0 1.5 0a0.7 0.7 0 1 0 -1.5 0M649.0 1042.2a1.3 1.3 0 1 0 2.5 0a1.3 1.3 0 1 0 -2.5 0M625.6 1047.6a1.1 1.1 0 1 0 2.3 0a1.1 1.1 0 1 0 -2.3 0M628.7 1046.8a1.0 1.0 0 1 0 2.0 0a1.0 1.0 0 1 0 -2.0 0M632.2 1046.1a0.7 0.7 0 1 0 1.3 0a0.7 0.7 0 1 0 -1.3 0M646.8 1044.2a0.8 0.8 0 1 0 1.7 0a0.8 0.8 0 1 0 -1.7 0M630.7 1047.8a0.6 0.6 0 1 0 1.2 0a0.6 0.6 0 1 0 -1.2 0M660.4 1044.1a0.7 0.7 0 1 0 1.5 0a0.7 0.7 0 1 0 -1.5 0M659.2 1044.8a1.2 1.2 0 1 0 2.3 0a1.2 1.2 0 1 0 -2.3 0M680.5 1043.0a0.6 0.6 0 1 0 1.2 0a0.6 0.6 0 1 0 -1.2 0M675.9 1046.4a1.3 1.3 0 1 0 2.6 0a1.3 1.3 0 1 0 -2.6 0M666.4 1043.0a0.7 0.7 0 1 0 1.3 0a0.7 0.7 0 1 0 -1.3 0M677.6 1046.5a0.8 0.8 0 1 0 1.6 0a0.8 0.8 0 1 0 -1.6 0M665.2 1045.4a1.0 1.0 0 1 0 1.9 0a1.0 1.0 0 1 0 -1.9 0M672.0 1042.3a0.8 0.8 0 1 0 1.6 0a0.8 0.8 0 1 0 -1.6 0M631.1 1046.3a1.1 1.1 0 1 0 2.2 0a1.1 1.1 0 1 0 -2.2 0M632.2 1045.4a1.1 1.1 0 1 0 2.2 0a1.1 1.1 0 1 0 -2.2 0M639.7 1041.3a1.1 1.1 0 1 0 2.1 0a1.1 1.1 0 1 0 -2.1 0M633.1 1045.8a1.2 1.2 0 1 0 2.5 0a1.2 1.2 0 1 0 -2.5 0M653.4 1045.3a1.2 1.2 0 1 0 2.3 0a1.2 1.2 0 1 0 -2.3 0M641.8 1046.5a0.9 0.9 0 1 0 1.8 0a0.9 0.9 0 1 0 -1.8 0M651.9 1044.6a1.2 1.2 0 1 0 2.4 0a1.2 1.2 0 1 0 -2.4 0M672.6 1047.9a1.2 1.2 0 1 0 2.5 0a1.2 1.2 0 1 0 -2.5 0M651.6 1043.3a1.2 1.2 0 1 0 2.4 0a1.2 1.2 0 1 0 -2.4 0M675.8 1047.1a0.8 0.8 0 1 0 1.6 0a0.8 0.8 0 1 0 -1.6 0M636.0 1042.5a1.2 1.2 0 1 0 2.3 0a1.2 1.2 0 1 0 -2.3 0M664.0 1044.7a0.8 0.8 0 1 0 1.6 0a0.8 0.8 0 1 0 -1.6 0M674.2 1045.5a0.8 0.8 0 1 0 1.6 0a0.8 0.8 0 1 0 -1.6 0M642.9 1045.0a0.7 0.7 0 1 0 1.4 0a0.7 0.7 0 1 0 -1.4 0M638.2 1042.4a0.9 0.9 0 1 0 1.7 0a0.9 0.9 0 1 0 -1.7 0M638.1 1041.6a1.2 1.2 0 1 0 2.3 0a1.2 1.2 0 1 0 -2.3 0M651.4 1042.4a1.1 1.1 0 1 0 2.2 0a1.1 1.1 0 1 0 -2.2 0M658.9 1044.1a1.2 1.2 0 1 0 2.4 0a1.2 1.2 0 1 0 -2.4 0M655.9 1044.7a0.7 0.7 0 1 0 1.5 0a0.7 0.7 0 1 0 -1.5 0M675.1 1044.3a0.8 0.8 0 1 0 1.6 0a0.8 0.8 0 1 0 -1.6 0M630.4 1046.6a1.1 1.1 0 1 0 2.3 0a1.1 1.1 0 1 0 -2.3 0M683.4 1048.1a1.2 1.2 0 1 0 2.5 0a1.2 1.2 0 1 0 -2.5 0M675.3 1047.8a1.3 1.3 0 1 0 2.6 0a1.3 1.3 0 1 0 -2.6 0M667.7 1044.7a1.2 1.2 0 1 0 2.4 0a1.2 1.2 0 1 0 -2.4 0M661.5 1044.5a0.6 0.6 0 1 0 1.2 0a0.6 0.6 0 1 0 -1.2 0M667.2 1045.3a0.8 0.8 0 1 0 1.6 0a0.8 0.8 0 1 0 -1.6 0M654.9 1042.0a0.7 0.7 0 1 0 1.4 0a0.7 0.7 0 1 0 -1.4 0M673.2 1043.8a1.2 1.2 0 1 0 2.5 0a1.2 1.2 0 1 0 -2.5 0M649.9 1043.7a1.1 1.1 0 1 0 2.2 0a1.1 1.1 0 1 0 -2.2 0" fill="#3a342c" opacity="0.75" filter="url(#b0_6)"/>
<path d="M654.3 1057.2a0.7 0.7 0 1 0 1.3 0a0.7 0.7 0 1 0 -1.3 0M651.5 1056.0a0.8 0.8 0 1 0 1.7 0a0.8 0.8 0 1 0 -1.7 0M646.6 1052.0a0.7 0.7 0 1 0 1.3 0a0.7 0.7 0 1 0 -1.3 0M657.3 1060.3a0.6 0.6 0 1 0 1.2 0a0.6 0.6 0 1 0 -1.2 0M652.5 1056.7a0.5 0.5 0 1 0 1.1 0a0.5 0.5 0 1 0 -1.1 0M653.9 1057.0a0.9 0.9 0 1 0 1.8 0a0.9 0.9 0 1 0 -1.8 0M657.5 1057.0a0.7 0.7 0 1 0 1.4 0a0.7 0.7 0 1 0 -1.4 0M658.6 1061.2a0.9 0.9 0 1 0 1.8 0a0.9 0.9 0 1 0 -1.8 0" fill="#3a342c" opacity="0.8" filter="url(#b0_6)"/>
<path d="M598.3 1064.8a0.6 0.6 0 1 0 1.1 0a0.6 0.6 0 1 0 -1.1 0M606.1 1058.9a0.6 0.6 0 1 0 1.2 0a0.6 0.6 0 1 0 -1.2 0M608.6 1054.9a0.8 0.8 0 1 0 1.5 0a0.8 0.8 0 1 0 -1.5 0M600.6 1066.8a0.7 0.7 0 1 0 1.5 0a0.7 0.7 0 1 0 -1.5 0M609.6 1057.6a0.6 0.6 0 1 0 1.1 0a0.6 0.6 0 1 0 -1.1 0M602.4 1059.2a0.6 0.6 0 1 0 1.2 0a0.6 0.6 0 1 0 -1.2 0M608.8 1060.7a0.5 0.5 0 1 0 1.0 0a0.5 0.5 0 1 0 -1.0 0M605.3 1060.6a0.7 0.7 0 1 0 1.3 0a0.7 0.7 0 1 0 -1.3 0M601.8 1065.4a0.7 0.7 0 1 0 1.4 0a0.7 0.7 0 1 0 -1.4 0M612.2 1056.3a0.5 0.5 0 1 0 1.0 0a0.5 0.5 0 1 0 -1.0 0M611.7 1053.5a0.6 0.6 0 1 0 1.1 0a0.6 0.6 0 1 0 -1.1 0M602.7 1059.6a0.8 0.8 0 1 0 1.6 0a0.8 0.8 0 1 0 -1.6 0M602.8 1064.4a0.7 0.7 0 1 0 1.5 0a0.7 0.7 0 1 0 -1.5 0M605.5 1059.3a0.6 0.6 0 1 0 1.1 0a0.6 0.6 0 1 0 -1.1 0M605.5 1061.2a0.6 0.6 0 1 0 1.2 0a0.6 0.6 0 1 0 -1.2 0M605.7 1059.3a0.6 0.6 0 1 0 1.2 0a0.6 0.6 0 1 0 -1.2 0M599.6 1064.5a0.6 0.6 0 1 0 1.2 0a0.6 0.6 0 1 0 -1.2 0M601.4 1066.5a0.8 0.8 0 1 0 1.6 0a0.8 0.8 0 1 0 -1.6 0M606.1 1058.8a0.8 0.8 0 1 0 1.6 0a0.8 0.8 0 1 0 -1.6 0M611.0 1056.5a0.7 0.7 0 1 0 1.5 0a0.7 0.7 0 1 0 -1.5 0M599.1 1066.9a0.5 0.5 0 1 0 1.0 0a0.5 0.5 0 1 0 -1.0 0M603.0 1061.6a0.9 0.9 0 1 0 1.7 0a0.9 0.9 0 1 0 -1.7 0M609.4 1059.4a0.5 0.5 0 1 0 1.0 0a0.5 0.5 0 1 0 -1.0 0M609.6 1059.7a0.5 0.5 0 1 0 1.0 0a0.5 0.5 0 1 0 -1.0 0M610.2 1059.2a0.8 0.8 0 1 0 1.7 0a0.8 0.8 0 1 0 -1.7 0M603.5 1059.6a0.6 0.6 0 1 0 1.3 0a0.6 0.6 0 1 0 -1.3 0" fill="#4a4238" opacity="0.75" filter="url(#b0_6)"/>
<path d="M600.6 1082.9a0.8 0.8 0 1 0 1.5 0a0.8 0.8 0 1 0 -1.5 0M601.5 1085.7a0.9 0.9 0 1 0 1.8 0a0.9 0.9 0 1 0 -1.8 0M604.9 1087.9a0.5 0.5 0 1 0 1.1 0a0.5 0.5 0 1 0 -1.1 0M601.8 1082.0a0.6 0.6 0 1 0 1.1 0a0.6 0.6 0 1 0 -1.1 0M604.1 1089.4a0.7 0.7 0 1 0 1.3 0a0.7 0.7 0 1 0 -1.3 0M599.8 1083.8a0.7 0.7 0 1 0 1.4 0a0.7 0.7 0 1 0 -1.4 0" fill="#5a5248" opacity="0.6" filter="url(#b0_6)"/>
<path d="M682.1 1090.0a0.9 0.9 0 1 0 1.8 0a0.9 0.9 0 1 0 -1.8 0M674.9 1093.1a1.2 1.2 0 1 0 2.3 0a1.2 1.2 0 1 0 -2.3 0M680.2 1089.1a1.1 1.1 0 1 0 2.2 0a1.1 1.1 0 1 0 -2.2 0M675.4 1089.4a1.0 1.0 0 1 0 2.0 0a1.0 1.0 0 1 0 -2.0 0M674.1 1092.3a1.3 1.3 0 1 0 2.5 0a1.3 1.3 0 1 0 -2.5 0M671.2 1099.1a1.1 1.1 0 1 0 2.2 0a1.1 1.1 0 1 0 -2.2 0M683.5 1091.0a1.0 1.0 0 1 0 2.0 0a1.0 1.0 0 1 0 -2.0 0M670.6 1095.0a1.0 1.0 0 1 0 2.0 0a1.0 1.0 0 1 0 -2.0 0M684.1 1083.5a0.9 0.9 0 1 0 1.8 0a0.9 0.9 0 1 0 -1.8 0M669.2 1102.2a1.1 1.1 0 1 0 2.3 0a1.1 1.1 0 1 0 -2.3 0M665.8 1097.7a0.9 0.9 0 1 0 1.8 0a0.9 0.9 0 1 0 -1.8 0M674.7 1095.5a0.6 0.6 0 1 0 1.3 0a0.6 0.6 0 1 0 -1.3 0M682.1 1090.0a0.9 0.9 0 1 0 1.7 0a0.9 0.9 0 1 0 -1.7 0M670.3 1103.4a0.9 0.9 0 1 0 1.8 0a0.9 0.9 0 1 0 -1.8 0M667.9 1101.0a1.3 1.3 0 1 0 2.6 0a1.3 1.3 0 1 0 -2.6 0M670.9 1099.1a1.1 1.1 0 1 0 2.3 0a1.1 1.1 0 1 0 -2.3 0M682.6 1090.3a0.8 0.8 0 1 0 1.7 0a0.8 0.8 0 1 0 -1.7 0M683.4 1086.2a0.9 0.9 0 1 0 1.8 0a0.9 0.9 0 1 0 -1.8 0M671.1 1104.0a0.9 0.9 0 1 0 1.7 0a0.9 0.9 0 1 0 -1.7 0M668.8 1101.3a1.2 1.2 0 1 0 2.5 0a1.2 1.2 0 1 0 -2.5 0M671.3 1095.3a1.0 1.0 0 1 0 1.9 0a1.0 1.0 0 1 0 -1.9 0M673.9 1097.3a1.1 1.1 0 1 0 2.2 0a1.1 1.1 0 1 0 -2.2 0M674.8 1092.2a0.9 0.9 0 1 0 1.7 0a0.9 0.9 0 1 0 -1.7 0M682.1 1088.0a0.9 0.9 0 1 0 1.7 0a0.9 0.9 0 1 0 -1.7 0M674.0 1101.1a0.7 0.7 0 1 0 1.5 0a0.7 0.7 0 1 0 -1.5 0M680.8 1092.5a1.0 1.0 0 1 0 2.0 0a1.0 1.0 0 1 0 -2.0 0M669.6 1101.2a0.6 0.6 0 1 0 1.2 0a0.6 0.6 0 1 0 -1.2 0M672.7 1095.3a0.9 0.9 0 1 0 1.8 0a0.9 0.9 0 1 0 -1.8 0M671.1 1095.9a0.6 0.6 0 1 0 1.3 0a0.6 0.6 0 1 0 -1.3 0M674.0 1096.9a0.9 0.9 0 1 0 1.8 0a0.9 0.9 0 1 0 -1.8 0M670.6 1096.9a1.0 1.0 0 1 0 2.1 0a1.0 1.0 0 1 0 -2.1 0M675.9 1094.9a0.8 0.8 0 1 0 1.7 0a0.8 0.8 0 1 0 -1.7 0M666.1 1104.0a0.7 0.7 0 1 0 1.3 0a0.7 0.7 0 1 0 -1.3 0M675.4 1091.1a1.1 1.1 0 1 0 2.2 0a1.1 1.1 0 1 0 -2.2 0M679.6 1091.6a1.2 1.2 0 1 0 2.4 0a1.2 1.2 0 1 0 -2.4 0M668.4 1099.2a0.9 0.9 0 1 0 1.7 0a0.9 0.9 0 1 0 -1.7 0M675.8 1089.2a0.9 0.9 0 1 0 1.8 0a0.9 0.9 0 1 0 -1.8 0M671.2 1095.1a0.8 0.8 0 1 0 1.6 0a0.8 0.8 0 1 0 -1.6 0M673.1 1097.5a0.7 0.7 0 1 0 1.5 0a0.7 0.7 0 1 0 -1.5 0M668.0 1103.3a0.8 0.8 0 1 0 1.6 0a0.8 0.8 0 1 0 -1.6 0M669.4 1101.6a1.1 1.1 0 1 0 2.3 0a1.1 1.1 0 1 0 -2.3 0M672.7 1097.4a0.6 0.6 0 1 0 1.2 0a0.6 0.6 0 1 0 -1.2 0M674.3 1095.3a1.3 1.3 0 1 0 2.5 0a1.3 1.3 0 1 0 -2.5 0M676.4 1093.2a0.8 0.8 0 1 0 1.7 0a0.8 0.8 0 1 0 -1.7 0M670.0 1102.7a1.0 1.0 0 1 0 2.0 0a1.0 1.0 0 1 0 -2.0 0M676.9 1090.4a1.2 1.2 0 1 0 2.5 0a1.2 1.2 0 1 0 -2.5 0M667.7 1101.7a0.8 0.8 0 1 0 1.7 0a0.8 0.8 0 1 0 -1.7 0M668.3 1100.5a0.7 0.7 0 1 0 1.3 0a0.7 0.7 0 1 0 -1.3 0M676.5 1087.8a1.2 1.2 0 1 0 2.5 0a1.2 1.2 0 1 0 -2.5 0M678.8 1090.0a0.9 0.9 0 1 0 1.8 0a0.9 0.9 0 1 0 -1.8 0M672.7 1094.6a0.9 0.9 0 1 0 1.9 0a0.9 0.9 0 1 0 -1.9 0M674.7 1093.8a1.1 1.1 0 1 0 2.3 0a1.1 1.1 0 1 0 -2.3 0M681.7 1090.8a0.8 0.8 0 1 0 1.5 0a0.8 0.8 0 1 0 -1.5 0M676.3 1091.7a0.9 0.9 0 1 0 1.9 0a0.9 0.9 0 1 0 -1.9 0M668.5 1100.5a1.1 1.1 0 1 0 2.2 0a1.1 1.1 0 1 0 -2.2 0" fill="#40382e" opacity="0.75" filter="url(#b0_6)"/>
<path d="M765.9 1080.4a0.9 0.9 0 1 0 1.8 0a0.9 0.9 0 1 0 -1.8 0M692.3 1087.3a1.2 1.2 0 1 0 2.3 0a1.2 1.2 0 1 0 -2.3 0M732.5 1083.5a1.2 1.2 0 1 0 2.3 0a1.2 1.2 0 1 0 -2.3 0M695.7 1082.7a1.1 1.1 0 1 0 2.2 0a1.1 1.1 0 1 0 -2.2 0M689.6 1085.1a1.0 1.0 0 1 0 2.0 0a1.0 1.0 0 1 0 -2.0 0M688.4 1081.1a0.8 0.8 0 1 0 1.6 0a0.8 0.8 0 1 0 -1.6 0M753.4 1082.9a1.1 1.1 0 1 0 2.1 0a1.1 1.1 0 1 0 -2.1 0M708.2 1081.4a0.7 0.7 0 1 0 1.4 0a0.7 0.7 0 1 0 -1.4 0M710.9 1081.8a0.7 0.7 0 1 0 1.4 0a0.7 0.7 0 1 0 -1.4 0M695.2 1083.3a1.0 1.0 0 1 0 2.0 0a1.0 1.0 0 1 0 -2.0 0M688.8 1085.6a0.6 0.6 0 1 0 1.3 0a0.6 0.6 0 1 0 -1.3 0M687.4 1084.9a0.7 0.7 0 1 0 1.5 0a0.7 0.7 0 1 0 -1.5 0M733.1 1082.7a1.2 1.2 0 1 0 2.3 0a1.2 1.2 0 1 0 -2.3 0M698.8 1082.6a0.8 0.8 0 1 0 1.6 0a0.8 0.8 0 1 0 -1.6 0M749.7 1083.0a1.1 1.1 0 1 0 2.3 0a1.1 1.1 0 1 0 -2.3 0M755.4 1084.0a0.8 0.8 0 1 0 1.7 0a0.8 0.8 0 1 0 -1.7 0M700.5 1084.3a1.0 1.0 0 1 0 2.0 0a1.0 1.0 0 1 0 -2.0 0M751.8 1081.7a1.0 1.0 0 1 0 2.0 0a1.0 1.0 0 1 0 -2.0 0M702.3 1082.0a0.8 0.8 0 1 0 1.5 0a0.8 0.8 0 1 0 -1.5 0M714.5 1080.2a1.3 1.3 0 1 0 2.6 0a1.3 1.3 0 1 0 -2.6 0M729.8 1083.2a0.8 0.8 0 1 0 1.6 0a0.8 0.8 0 1 0 -1.6 0M764.8 1081.0a1.0 1.0 0 1 0 1.9 0a1.0 1.0 0 1 0 -1.9 0M724.7 1079.0a1.1 1.1 0 1 0 2.2 0a1.1 1.1 0 1 0 -2.2 0M759.8 1081.2a1.0 1.0 0 1 0 2.0 0a1.0 1.0 0 1 0 -2.0 0M730.7 1080.6a1.2 1.2 0 1 0 2.4 0a1.2 1.2 0 1 0 -2.4 0M709.5 1081.6a0.7 0.7 0 1 0 1.5 0a0.7 0.7 0 1 0 -1.5 0M741.1 1082.8a0.7 0.7 0 1 0 1.4 0a0.7 0.7 0 1 0 -1.4 0M722.0 1081.6a1.0 1.0 0 1 0 2.0 0a1.0 1.0 0 1 0 -2.0 0M722.7 1083.8a0.8 0.8 0 1 0 1.6 0a0.8 0.8 0 1 0 -1.6 0M692.5 1083.3a0.6 0.6 0 1 0 1.3 0a0.6 0.6 0 1 0 -1.3 0M721.8 1083.8a0.8 0.8 0 1 0 1.6 0a0.8 0.8 0 1 0 -1.6 0M745.1 1083.1a1.1 1.1 0 1 0 2.1 0a1.1 1.1 0 1 0 -2.1 0M719.3 1079.8a0.8 0.8 0 1 0 1.6 0a0.8 0.8 0 1 0 -1.6 0M692.8 1082.6a1.2 1.2 0 1 0 2.4 0a1.2 1.2 0 1 0 -2.4 0M699.9 1079.6a0.7 0.7 0 1 0 1.5 0a0.7 0.7 0 1 0 -1.5 0M706.0 1081.2a0.9 0.9 0 1 0 1.9 0a0.9 0.9 0 1 0 -1.9 0M728.5 1082.4a0.8 0.8 0 1 0 1.6 0a0.8 0.8 0 1 0 -1.6 0M751.2 1081.9a1.1 1.1 0 1 0 2.2 0a1.1 1.1 0 1 0 -2.2 0M753.8 1080.4a1.0 1.0 0 1 0 2.0 0a1.0 1.0 0 1 0 -2.0 0M722.2 1083.0a1.1 1.1 0 1 0 2.1 0a1.1 1.1 0 1 0 -2.1 0M766.1 1083.9a1.2 1.2 0 1 0 2.5 0a1.2 1.2 0 1 0 -2.5 0M740.9 1083.9a0.6 0.6 0 1 0 1.3 0a0.6 0.6 0 1 0 -1.3 0M701.3 1082.6a0.7 0.7 0 1 0 1.4 0a0.7 0.7 0 1 0 -1.4 0M715.4 1083.8a0.7 0.7 0 1 0 1.3 0a0.7 0.7 0 1 0 -1.3 0M689.1 1088.0a0.8 0.8 0 1 0 1.7 0a0.8 0.8 0 1 0 -1.7 0M692.6 1085.2a1.1 1.1 0 1 0 2.2 0a1.1 1.1 0 1 0 -2.2 0M746.3 1082.6a0.7 0.7 0 1 0 1.3 0a0.7 0.7 0 1 0 -1.3 0M718.3 1082.1a0.7 0.7 0 1 0 1.4 0a0.7 0.7 0 1 0 -1.4 0M744.4 1080.0a1.3 1.3 0 1 0 2.6 0a1.3 1.3 0 1 0 -2.6 0M756.6 1084.6a1.1 1.1 0 1 0 2.1 0a1.1 1.1 0 1 0 -2.1 0M704.7 1078.9a1.0 1.0 0 1 0 2.0 0a1.0 1.0 0 1 0 -2.0 0M748.4 1085.1a0.8 0.8 0 1 0 1.7 0a0.8 0.8 0 1 0 -1.7 0M709.0 1081.2a0.9 0.9 0 1 0 1.9 0a0.9 0.9 0 1 0 -1.9 0M752.6 1080.8a1.2 1.2 0 1 0 2.4 0a1.2 1.2 0 1 0 -2.4 0M715.6 1084.4a0.8 0.8 0 1 0 1.6 0a0.8 0.8 0 1 0 -1.6 0M698.6 1080.5a0.8 0.8 0 1 0 1.6 0a0.8 0.8 0 1 0 -1.6 0M750.1 1081.1a1.0 1.0 0 1 0 1.9 0a1.0 1.0 0 1 0 -1.9 0M761.6 1082.7a0.9 0.9 0 1 0 1.8 0a0.9 0.9 0 1 0 -1.8 0M712.2 1081.5a0.9 0.9 0 1 0 1.8 0a0.9 0.9 0 1 0 -1.8 0M747.5 1081.8a1.1 1.1 0 1 0 2.2 0a1.1 1.1 0 1 0 -2.2 0M759.6 1082.2a1.3 1.3 0 1 0 2.5 0a1.3 1.3 0 1 0 -2.5 0M691.2 1084.6a1.0 1.0 0 1 0 2.0 0a1.0 1.0 0 1 0 -2.0 0M718.9 1081.6a0.9 0.9 0 1 0 1.9 0a0.9 0.9 0 1 0 -1.9 0M711.5 1083.6a1.1 1.1 0 1 0 2.1 0a1.1 1.1 0 1 0 -2.1 0M713.3 1081.6a0.6 0.6 0 1 0 1.3 0a0.6 0.6 0 1 0 -1.3 0M713.1 1082.1a1.2 1.2 0 1 0 2.4 0a1.2 1.2 0 1 0 -2.4 0M748.4 1082.7a1.2 1.2 0 1 0 2.4 0a1.2 1.2 0 1 0 -2.4 0M692.5 1087.1a1.0 1.0 0 1 0 2.0 0a1.0 1.0 0 1 0 -2.0 0M722.0 1078.8a1.0 1.0 0 1 0 2.0 0a1.0 1.0 0 1 0 -2.0 0M761.4 1083.5a1.1 1.1 0 1 0 2.2 0a1.1 1.1 0 1 0 -2.2 0" fill="#40382e" opacity="0.75" filter="url(#b0_6)"/>
<path d="M813.1 1085.0a0.6 0.6 0 1 0 1.2 0a0.6 0.6 0 1 0 -1.2 0M806.5 1082.9a0.7 0.7 0 1 0 1.4 0a0.7 0.7 0 1 0 -1.4 0M785.7 1082.6a0.6 0.6 0 1 0 1.1 0a0.6 0.6 0 1 0 -1.1 0M819.0 1085.2a0.6 0.6 0 1 0 1.2 0a0.6 0.6 0 1 0 -1.2 0M789.9 1082.8a0.5 0.5 0 1 0 1.0 0a0.5 0.5 0 1 0 -1.0 0M807.3 1085.2a0.8 0.8 0 1 0 1.6 0a0.8 0.8 0 1 0 -1.6 0" fill="#5a5248" opacity="0.7" filter="url(#b0_6)"/>
<path d="M877.4 1075.0a0.9 0.9 0 1 0 1.8 0a0.9 0.9 0 1 0 -1.8 0M931.7 1075.3a0.9 0.9 0 1 0 1.8 0a0.9 0.9 0 1 0 -1.8 0M922.7 1080.3a1.0 1.0 0 1 0 1.9 0a1.0 1.0 0 1 0 -1.9 0M906.0 1074.3a0.7 0.7 0 1 0 1.5 0a0.7 0.7 0 1 0 -1.5 0M902.0 1072.7a0.6 0.6 0 1 0 1.2 0a0.6 0.6 0 1 0 -1.2 0M946.4 1082.0a0.9 0.9 0 1 0 1.8 0a0.9 0.9 0 1 0 -1.8 0M886.1 1072.2a0.9 0.9 0 1 0 1.8 0a0.9 0.9 0 1 0 -1.8 0M916.9 1076.4a0.8 0.8 0 1 0 1.5 0a0.8 0.8 0 1 0 -1.5 0M899.3 1074.9a0.8 0.8 0 1 0 1.6 0a0.8 0.8 0 1 0 -1.6 0M887.0 1072.2a0.7 0.7 0 1 0 1.4 0a0.7 0.7 0 1 0 -1.4 0M915.7 1077.2a0.5 0.5 0 1 0 1.1 0a0.5 0.5 0 1 0 -1.1 0M934.0 1078.8a0.6 0.6 0 1 0 1.3 0a0.6 0.6 0 1 0 -1.3 0M916.0 1076.8a0.6 0.6 0 1 0 1.2 0a0.6 0.6 0 1 0 -1.2 0M926.8 1081.1a0.6 0.6 0 1 0 1.2 0a0.6 0.6 0 1 0 -1.2 0M911.6 1074.2a0.6 0.6 0 1 0 1.2 0a0.6 0.6 0 1 0 -1.2 0M895.8 1075.1a0.7 0.7 0 1 0 1.3 0a0.7 0.7 0 1 0 -1.3 0M940.3 1082.1a0.9 0.9 0 1 0 1.8 0a0.9 0.9 0 1 0 -1.8 0M857.8 1065.4a0.8 0.8 0 1 0 1.6 0a0.8 0.8 0 1 0 -1.6 0M938.5 1081.7a1.0 1.0 0 1 0 2.0 0a1.0 1.0 0 1 0 -2.0 0M894.8 1075.3a0.8 0.8 0 1 0 1.7 0a0.8 0.8 0 1 0 -1.7 0M897.3 1075.8a1.0 1.0 0 1 0 2.0 0a1.0 1.0 0 1 0 -2.0 0M897.9 1074.7a0.5 0.5 0 1 0 1.0 0a0.5 0.5 0 1 0 -1.0 0M930.9 1077.0a0.8 0.8 0 1 0 1.7 0a0.8 0.8 0 1 0 -1.7 0M928.0 1079.8a0.6 0.6 0 1 0 1.2 0a0.6 0.6 0 1 0 -1.2 0M903.8 1073.4a0.6 0.6 0 1 0 1.2 0a0.6 0.6 0 1 0 -1.2 0M878.7 1071.6a0.8 0.8 0 1 0 1.6 0a0.8 0.8 0 1 0 -1.6 0M883.8 1070.8a0.7 0.7 0 1 0 1.5 0a0.7 0.7 0 1 0 -1.5 0M868.5 1070.1a0.6 0.6 0 1 0 1.2 0a0.6 0.6 0 1 0 -1.2 0M891.0 1071.7a0.6 0.6 0 1 0 1.2 0a0.6 0.6 0 1 0 -1.2 0M906.0 1074.2a0.6 0.6 0 1 0 1.1 0a0.6 0.6 0 1 0 -1.1 0M934.6 1081.6a0.7 0.7 0 1 0 1.5 0a0.7 0.7 0 1 0 -1.5 0M899.9 1075.2a0.8 0.8 0 1 0 1.7 0a0.8 0.8 0 1 0 -1.7 0M918.5 1076.1a0.9 0.9 0 1 0 1.9 0a0.9 0.9 0 1 0 -1.9 0M900.5 1074.2a0.7 0.7 0 1 0 1.3 0a0.7 0.7 0 1 0 -1.3 0M924.0 1079.3a0.9 0.9 0 1 0 1.9 0a0.9 0.9 0 1 0 -1.9 0M870.8 1070.6a0.8 0.8 0 1 0 1.6 0a0.8 0.8 0 1 0 -1.6 0M943.6 1083.1a0.7 0.7 0 1 0 1.4 0a0.7 0.7 0 1 0 -1.4 0M899.9 1071.1a0.8 0.8 0 1 0 1.6 0a0.8 0.8 0 1 0 -1.6 0M898.0 1072.8a0.7 0.7 0 1 0 1.3 0a0.7 0.7 0 1 0 -1.3 0M896.3 1072.9a0.9 0.9 0 1 0 1.7 0a0.9 0.9 0 1 0 -1.7 0M888.7 1073.3a0.9 0.9 0 1 0 1.9 0a0.9 0.9 0 1 0 -1.9 0M940.0 1080.6a1.0 1.0 0 1 0 2.0 0a1.0 1.0 0 1 0 -2.0 0M939.0 1080.3a0.8 0.8 0 1 0 1.7 0a0.8 0.8 0 1 0 -1.7 0M870.3 1069.5a0.5 0.5 0 1 0 1.1 0a0.5 0.5 0 1 0 -1.1 0M907.2 1073.6a0.7 0.7 0 1 0 1.4 0a0.7 0.7 0 1 0 -1.4 0M856.0 1068.5a0.8 0.8 0 1 0 1.6 0a0.8 0.8 0 1 0 -1.6 0M857.1 1069.7a0.6 0.6 0 1 0 1.2 0a0.6 0.6 0 1 0 -1.2 0M924.4 1081.3a0.7 0.7 0 1 0 1.4 0a0.7 0.7 0 1 0 -1.4 0M916.6 1077.4a0.5 0.5 0 1 0 1.1 0a0.5 0.5 0 1 0 -1.1 0M912.0 1076.4a0.7 0.7 0 1 0 1.4 0a0.7 0.7 0 1 0 -1.4 0M878.3 1073.2a0.9 0.9 0 1 0 1.9 0a0.9 0.9 0 1 0 -1.9 0M927.6 1080.7a0.8 0.8 0 1 0 1.6 0a0.8 0.8 0 1 0 -1.6 0M921.0 1077.1a0.6 0.6 0 1 0 1.1 0a0.6 0.6 0 1 0 -1.1 0M927.9 1080.7a0.5 0.5 0 1 0 1.1 0a0.5 0.5 0 1 0 -1.1 0M907.4 1075.9a0.5 0.5 0 1 0 1.0 0a0.5 0.5 0 1 0 -1.0 0M870.7 1070.5a0.5 0.5 0 1 0 1.0 0a0.5 0.5 0 1 0 -1.0 0M898.7 1076.2a0.9 0.9 0 1 0 1.7 0a0.9 0.9 0 1 0 -1.7 0M857.7 1072.1a0.8 0.8 0 1 0 1.7 0a0.8 0.8 0 1 0 -1.7 0M864.7 1069.5a0.6 0.6 0 1 0 1.2 0a0.6 0.6 0 1 0 -1.2 0M887.4 1072.4a0.9 0.9 0 1 0 1.9 0a0.9 0.9 0 1 0 -1.9 0" fill="#4c4640" opacity="0.6" filter="url(#b0_6)"/>
<path d="M870.0 1082.7a0.8 0.8 0 1 0 1.6 0a0.8 0.8 0 1 0 -1.6 0M878.4 1085.2a0.9 0.9 0 1 0 1.7 0a0.9 0.9 0 1 0 -1.7 0M849.7 1080.1a0.7 0.7 0 1 0 1.3 0a0.7 0.7 0 1 0 -1.3 0M887.0 1084.7a0.6 0.6 0 1 0 1.2 0a0.6 0.6 0 1 0 -1.2 0M883.5 1086.3a0.8 0.8 0 1 0 1.5 0a0.8 0.8 0 1 0 -1.5 0M852.6 1078.4a0.9 0.9 0 1 0 1.8 0a0.9 0.9 0 1 0 -1.8 0M886.1 1087.3a0.9 0.9 0 1 0 1.9 0a0.9 0.9 0 1 0 -1.9 0M930.1 1090.0a0.6 0.6 0 1 0 1.3 0a0.6 0.6 0 1 0 -1.3 0M911.2 1088.9a0.7 0.7 0 1 0 1.4 0a0.7 0.7 0 1 0 -1.4 0M921.6 1090.2a0.8 0.8 0 1 0 1.6 0a0.8 0.8 0 1 0 -1.6 0M841.0 1081.3a0.7 0.7 0 1 0 1.5 0a0.7 0.7 0 1 0 -1.5 0M915.4 1091.6a0.6 0.6 0 1 0 1.2 0a0.6 0.6 0 1 0 -1.2 0M904.2 1087.2a0.6 0.6 0 1 0 1.3 0a0.6 0.6 0 1 0 -1.3 0M874.8 1083.2a0.7 0.7 0 1 0 1.4 0a0.7 0.7 0 1 0 -1.4 0M943.8 1093.6a0.5 0.5 0 1 0 1.1 0a0.5 0.5 0 1 0 -1.1 0M893.3 1087.2a0.6 0.6 0 1 0 1.3 0a0.6 0.6 0 1 0 -1.3 0M888.7 1084.8a0.9 0.9 0 1 0 1.9 0a0.9 0.9 0 1 0 -1.9 0M851.3 1081.2a0.8 0.8 0 1 0 1.5 0a0.8 0.8 0 1 0 -1.5 0M871.8 1083.4a0.7 0.7 0 1 0 1.3 0a0.7 0.7 0 1 0 -1.3 0M843.5 1080.5a0.8 0.8 0 1 0 1.6 0a0.8 0.8 0 1 0 -1.6 0M890.0 1085.8a0.5 0.5 0 1 0 1.1 0a0.5 0.5 0 1 0 -1.1 0M908.5 1090.4a0.5 0.5 0 1 0 1.1 0a0.5 0.5 0 1 0 -1.1 0M879.7 1084.8a0.8 0.8 0 1 0 1.6 0a0.8 0.8 0 1 0 -1.6 0M876.8 1086.3a0.7 0.7 0 1 0 1.4 0a0.7 0.7 0 1 0 -1.4 0M852.4 1081.0a0.9 0.9 0 1 0 1.8 0a0.9 0.9 0 1 0 -1.8 0M847.9 1076.7a0.5 0.5 0 1 0 1.1 0a0.5 0.5 0 1 0 -1.1 0M908.4 1085.9a0.9 0.9 0 1 0 1.9 0a0.9 0.9 0 1 0 -1.9 0M886.7 1083.9a0.7 0.7 0 1 0 1.4 0a0.7 0.7 0 1 0 -1.4 0M853.0 1080.3a0.7 0.7 0 1 0 1.3 0a0.7 0.7 0 1 0 -1.3 0M915.3 1087.9a0.7 0.7 0 1 0 1.4 0a0.7 0.7 0 1 0 -1.4 0M891.7 1084.8a0.9 0.9 0 1 0 1.8 0a0.9 0.9 0 1 0 -1.8 0M906.7 1086.2a0.5 0.5 0 1 0 1.1 0a0.5 0.5 0 1 0 -1.1 0M907.0 1086.3a0.9 0.9 0 1 0 1.8 0a0.9 0.9 0 1 0 -1.8 0M853.3 1081.6a1.0 1.0 0 1 0 1.9 0a1.0 1.0 0 1 0 -1.9 0M850.1 1081.2a0.6 0.6 0 1 0 1.3 0a0.6 0.6 0 1 0 -1.3 0M902.8 1089.8a0.8 0.8 0 1 0 1.7 0a0.8 0.8 0 1 0 -1.7 0M913.2 1087.0a0.5 0.5 0 1 0 1.0 0a0.5 0.5 0 1 0 -1.0 0M881.9 1082.9a1.0 1.0 0 1 0 1.9 0a1.0 1.0 0 1 0 -1.9 0M858.7 1081.9a0.6 0.6 0 1 0 1.2 0a0.6 0.6 0 1 0 -1.2 0M845.1 1080.0a0.5 0.5 0 1 0 1.0 0a0.5 0.5 0 1 0 -1.0 0" fill="#4c4640" opacity="0.5" filter="url(#b0_6)"/>
<path d="M866.8 1108.5a0.5 0.5 0 1 0 1.0 0a0.5 0.5 0 1 0 -1.0 0M854.3 1122.5a0.3 0.3 0 1 0 0.6 0a0.3 0.3 0 1 0 -0.6 0M902.3 1116.1a0.3 0.3 0 1 0 0.7 0a0.3 0.3 0 1 0 -0.7 0M927.8 1117.8a0.5 0.5 0 1 0 0.9 0a0.5 0.5 0 1 0 -0.9 0M923.0 1115.1a0.5 0.5 0 1 0 0.9 0a0.5 0.5 0 1 0 -0.9 0M866.8 1111.1a0.5 0.5 0 1 0 1.0 0a0.5 0.5 0 1 0 -1.0 0M954.1 1103.1a0.3 0.3 0 1 0 0.7 0a0.3 0.3 0 1 0 -0.7 0M905.6 1110.2a0.3 0.3 0 1 0 0.7 0a0.3 0.3 0 1 0 -0.7 0M847.5 1118.5a0.4 0.4 0 1 0 0.7 0a0.4 0.4 0 1 0 -0.7 0M943.2 1103.3a0.4 0.4 0 1 0 0.9 0a0.4 0.4 0 1 0 -0.9 0M876.0 1108.8a0.4 0.4 0 1 0 0.9 0a0.4 0.4 0 1 0 -0.9 0M821.6 1117.1a0.4 0.4 0 1 0 0.7 0a0.4 0.4 0 1 0 -0.7 0M834.0 1119.5a0.5 0.5 0 1 0 1.1 0a0.5 0.5 0 1 0 -1.1 0M911.3 1113.1a0.5 0.5 0 1 0 1.1 0a0.5 0.5 0 1 0 -1.1 0M848.4 1110.6a0.4 0.4 0 1 0 0.7 0a0.4 0.4 0 1 0 -0.7 0M942.3 1120.4a0.5 0.5 0 1 0 1.0 0a0.5 0.5 0 1 0 -1.0 0M881.1 1107.7a0.5 0.5 0 1 0 1.0 0a0.5 0.5 0 1 0 -1.0 0M823.6 1119.6a0.4 0.4 0 1 0 0.8 0a0.4 0.4 0 1 0 -0.8 0M908.8 1113.3a0.3 0.3 0 1 0 0.7 0a0.3 0.3 0 1 0 -0.7 0M843.9 1118.3a0.5 0.5 0 1 0 1.0 0a0.5 0.5 0 1 0 -1.0 0M920.0 1116.5a0.4 0.4 0 1 0 0.8 0a0.4 0.4 0 1 0 -0.8 0M928.2 1104.4a0.5 0.5 0 1 0 1.0 0a0.5 0.5 0 1 0 -1.0 0M925.5 1117.7a0.4 0.4 0 1 0 0.8 0a0.4 0.4 0 1 0 -0.8 0M838.8 1118.0a0.5 0.5 0 1 0 0.9 0a0.5 0.5 0 1 0 -0.9 0M830.8 1119.6a0.5 0.5 0 1 0 0.9 0a0.5 0.5 0 1 0 -0.9 0M936.3 1107.4a0.5 0.5 0 1 0 1.0 0a0.5 0.5 0 1 0 -1.0 0M862.3 1116.1a0.4 0.4 0 1 0 0.8 0a0.4 0.4 0 1 0 -0.8 0M908.9 1107.5a0.5 0.5 0 1 0 1.0 0a0.5 0.5 0 1 0 -1.0 0M920.4 1111.0a0.4 0.4 0 1 0 0.8 0a0.4 0.4 0 1 0 -0.8 0M895.7 1109.8a0.5 0.5 0 1 0 0.9 0a0.5 0.5 0 1 0 -0.9 0M859.0 1114.8a0.5 0.5 0 1 0 1.0 0a0.5 0.5 0 1 0 -1.0 0M853.8 1122.8a0.4 0.4 0 1 0 0.8 0a0.4 0.4 0 1 0 -0.8 0M930.7 1110.8a0.5 0.5 0 1 0 0.9 0a0.5 0.5 0 1 0 -0.9 0M910.1 1110.6a0.4 0.4 0 1 0 0.9 0a0.4 0.4 0 1 0 -0.9 0M935.4 1112.3a0.5 0.5 0 1 0 0.9 0a0.5 0.5 0 1 0 -0.9 0M862.6 1109.8a0.3 0.3 0 1 0 0.7 0a0.3 0.3 0 1 0 -0.7 0M883.5 1112.7a0.4 0.4 0 1 0 0.8 0a0.4 0.4 0 1 0 -0.8 0M864.1 1112.0a0.4 0.4 0 1 0 0.8 0a0.4 0.4 0 1 0 -0.8 0M893.7 1108.6a0.4 0.4 0 1 0 0.9 0a0.4 0.4 0 1 0 -0.9 0M948.4 1112.4a0.3 0.3 0 1 0 0.6 0a0.3 0.3 0 1 0 -0.6 0M910.7 1106.4a0.3 0.3 0 1 0 0.7 0a0.3 0.3 0 1 0 -0.7 0M889.5 1115.7a0.5 0.5 0 1 0 1.1 0a0.5 0.5 0 1 0 -1.1 0M851.5 1118.1a0.4 0.4 0 1 0 0.7 0a0.4 0.4 0 1 0 -0.7 0M920.5 1106.4a0.5 0.5 0 1 0 1.0 0a0.5 0.5 0 1 0 -1.0 0M851.6 1115.9a0.4 0.4 0 1 0 0.9 0a0.4 0.4 0 1 0 -0.9 0M921.3 1107.1a0.4 0.4 0 1 0 0.8 0a0.4 0.4 0 1 0 -0.8 0M923.5 1103.9a0.3 0.3 0 1 0 0.7 0a0.3 0.3 0 1 0 -0.7 0M926.1 1110.0a0.4 0.4 0 1 0 0.8 0a0.4 0.4 0 1 0 -0.8 0M901.6 1107.1a0.3 0.3 0 1 0 0.7 0a0.3 0.3 0 1 0 -0.7 0M893.9 1111.3a0.4 0.4 0 1 0 0.7 0a0.4 0.4 0 1 0 -0.7 0M868.0 1102.2a0.5 0.5 0 1 0 1.1 0a0.5 0.5 0 1 0 -1.1 0M889.3 1117.6a0.5 0.5 0 1 0 1.0 0a0.5 0.5 0 1 0 -1.0 0M946.4 1121.7a0.4 0.4 0 1 0 0.9 0a0.4 0.4 0 1 0 -0.9 0M905.4 1119.6a0.3 0.3 0 1 0 0.7 0a0.3 0.3 0 1 0 -0.7 0M917.1 1106.9a0.4 0.4 0 1 0 0.7 0a0.4 0.4 0 1 0 -0.7 0M956.6 1096.5a0.5 0.5 0 1 0 1.0 0a0.5 0.5 0 1 0 -1.0 0M946.0 1110.5a0.4 0.4 0 1 0 0.7 0a0.4 0.4 0 1 0 -0.7 0M885.3 1119.9a0.5 0.5 0 1 0 1.0 0a0.5 0.5 0 1 0 -1.0 0M863.6 1115.4a0.4 0.4 0 1 0 0.7 0a0.4 0.4 0 1 0 -0.7 0M852.1 1119.9a0.3 0.3 0 1 0 0.6 0a0.3 0.3 0 1 0 -0.6 0" fill="#d0d0d0" opacity="0.45"/>
<ellipse cx="628.1" cy="1073.9" rx="10.6" ry="9.4" fill="#1a1311" filter="url(#b0_6)"/>
<ellipse cx="628.4" cy="1074.4" rx="5.5" ry="4.8" fill="#46362f" opacity="0.85" filter="url(#b1)"/>
<path d="M610.6 1100.4C611.4 1100.4 611.4 1106.5 613.2 1108.9C615.1 1111.4 621.8 1113.8 621.8 1114.9C621.8 1116.1 615.4 1116.8 613.2 1115.8C611.0 1114.8 608.8 1111.5 608.4 1108.9C608.0 1106.4 609.8 1100.4 610.6 1100.4Z" fill="#2a1f1c" opacity="0.9" filter="url(#b1)"/>
<circle cx="791.1" cy="1087.9" r="2" fill="none" stroke="#f4f0e8" stroke-width="0.8"/>
<rect x="579" y="989" width="438" height="180" filter="url(#grainD)" opacity="0.12"/>
<rect x="579" y="989" width="438" height="180" filter="url(#grainL)" opacity="0.07"/>
<circle cx="1003" cy="1128" r="5.5" fill="#9a9694" opacity="0.12" filter="url(#b1)"/>
<circle cx="990" cy="1146" r="5" fill="#9a9694" opacity="0.1" filter="url(#b1)"/>
<circle cx="1005" cy="1152" r="5" fill="#9a9694" opacity="0.1" filter="url(#b1)"/>
<circle cx="880" cy="1136" r="6" fill="#9a9694" opacity="0.08" filter="url(#b1)"/>
<circle cx="700" cy="1120" r="5" fill="#9a9694" opacity="0.06" filter="url(#b1)"/>
</g>
<g fill="#1b1b1b">
<rect x="335" y="47.9" width="7.199999999999989" height="4.0"/>
<rect x="353.10" y="47.9" width="13.0" height="4.0"/>
<rect x="377.40" y="47.9" width="13.0" height="4.0"/>
<rect x="401.70" y="47.9" width="13.0" height="4.0"/>
<rect x="426.00" y="47.9" width="13.0" height="4.0"/>
<rect x="450.30" y="47.9" width="13.0" height="4.0"/>
<rect x="474.60" y="47.9" width="13.0" height="4.0"/>
<rect x="498.90" y="47.9" width="13.0" height="4.0"/>
<rect x="523.20" y="47.9" width="13.0" height="4.0"/>
<rect x="547.50" y="47.9" width="13.0" height="4.0"/>
<rect x="571.80" y="47.9" width="13.0" height="4.0"/>
<rect x="596.10" y="47.9" width="13.0" height="4.0"/>
<rect x="620.40" y="47.9" width="13.0" height="4.0"/>
<rect x="644.70" y="47.9" width="13.0" height="4.0"/>
<rect x="669.00" y="47.9" width="13.0" height="4.0"/>
<rect x="693.30" y="47.9" width="13.0" height="4.0"/>
<rect x="717.60" y="47.9" width="13.0" height="4.0"/>
<rect x="741.90" y="47.9" width="13.0" height="4.0"/>
<rect x="766.20" y="47.9" width="13.0" height="4.0"/>
<rect x="790.50" y="47.9" width="13.0" height="4.0"/>
<rect x="814.80" y="47.9" width="13.0" height="4.0"/>
<rect x="839.10" y="47.9" width="13.0" height="4.0"/>
<rect x="863.40" y="47.9" width="13.0" height="4.0"/>
<rect x="887.70" y="47.9" width="13.0" height="4.0"/>
<rect x="912.00" y="47.9" width="13.0" height="4.0"/>
<rect x="936.30" y="47.9" width="13.0" height="4.0"/>
<rect x="959.2" y="47.9" width="6.7999999999999545" height="4.0"/>
<rect x="971" y="47.9" width="332.70000000000005" height="4.0"/>
<rect x="158" y="437.9" width="8" height="4.0"/>
<rect x="176.40" y="437.9" width="13.0" height="4.0"/>
<rect x="200.70" y="437.9" width="13.0" height="4.0"/>
<rect x="225.00" y="437.9" width="13.0" height="4.0"/>
<rect x="249.30" y="437.9" width="13.0" height="4.0"/>
<rect x="273.60" y="437.9" width="13.0" height="4.0"/>
<rect x="297.90" y="437.9" width="13.0" height="4.0"/>
<rect x="322.20" y="437.9" width="13.0" height="4.0"/>
<rect x="346.50" y="437.9" width="13.0" height="4.0"/>
<rect x="370.80" y="437.9" width="13.0" height="4.0"/>
<rect x="395.10" y="437.9" width="13.0" height="4.0"/>
<rect x="419.40" y="437.9" width="13.0" height="4.0"/>
<rect x="443.70" y="437.9" width="13.0" height="4.0"/>
<rect x="468.00" y="437.9" width="13.0" height="4.0"/>
<rect x="492.30" y="437.9" width="13.0" height="4.0"/>
<rect x="516.60" y="437.9" width="13.0" height="4.0"/>
<rect x="540.90" y="437.9" width="13.0" height="4.0"/>
<rect x="565.20" y="437.9" width="13.0" height="4.0"/>
<rect x="589.50" y="437.9" width="13.0" height="4.0"/>
<rect x="613.80" y="437.9" width="13.0" height="4.0"/>
<rect x="638.10" y="437.9" width="13.0" height="4.0"/>
<rect x="662.40" y="437.9" width="13.0" height="4.0"/>
<rect x="686.70" y="437.9" width="13.0" height="4.0"/>
<rect x="711.00" y="437.9" width="13.0" height="4.0"/>
<rect x="735.30" y="437.9" width="13.0" height="4.0"/>
<rect x="759.60" y="437.9" width="13.0" height="4.0"/>
<rect x="783.90" y="437.9" width="13.0" height="4.0"/>
<rect x="808.20" y="437.9" width="13.0" height="4.0"/>
<rect x="832.50" y="437.9" width="13.0" height="4.0"/>
<rect x="856.80" y="437.9" width="13.0" height="4.0"/>
<rect x="881.10" y="437.9" width="13.0" height="4.0"/>
<rect x="905.40" y="437.9" width="13.0" height="4.0"/>
<rect x="929.2" y="437.9" width="6.7999999999999545" height="4.0"/>
<rect x="941" y="437.9" width="332.70000000000005" height="4.0"/>
</g>
<rect x="1096.85" y="778.95" width="17.20" height="16.40" fill="#ececec" stroke="#7f7f7f" stroke-width="3.5"/>
<rect x="1096.85" y="807.75" width="17.20" height="16.40" fill="#b2b2b2" stroke="#7f7f7f" stroke-width="3.5"/>
<rect x="1096.85" y="835.95" width="17.20" height="16.40" fill="#7a7a7a" stroke="#404040" stroke-width="3.5"/>
<rect x="1096.85" y="865.75" width="16.40" height="16.40" fill="#ffc000" stroke="#1a1a1a" stroke-width="3.5"/>
<rect x="1096.85" y="894.55" width="16.40" height="16.40" fill="#99005f" stroke="#0a0008" stroke-width="3.5"/>
<rect x="1374.3" y="771.90" width="129.80" height="3.2" fill="#8e8e8e"/>
<rect x="1374.3" y="801.80" width="129.80" height="3.2" fill="#8e8e8e"/>
<rect x="1374.3" y="833.40" width="129.80" height="3.2" fill="#8e8e8e"/>
<rect x="1374.3" y="864.10" width="129.80" height="3.2" fill="#8e8e8e"/>
<rect x="1374.3" y="894.90" width="129.80" height="3.2" fill="#8e8e8e"/>
<rect x="1374.3" y="925.60" width="129.80" height="3.2" fill="#8e8e8e"/>
<rect x="1374.3" y="956.30" width="129.80" height="3.2" fill="#8e8e8e"/>
<rect x="1374.3" y="987.20" width="129.80" height="3.2" fill="#8e8e8e"/>
<rect x="1374.3" y="1017.40" width="129.80" height="3.2" fill="#8e8e8e"/>
<rect x="1374.3" y="1048.90" width="129.80" height="3.2" fill="#8e8e8e"/>
<rect x="1375.2" y="771.9" width="3.6" height="311.80" fill="#8e8e8e"/>
<rect x="1395.10" y="1068.00" width="28.80" height="14.00" fill="#000"/>
<rect x="1398.00" y="1071.00" width="22.10" height="8.00" fill="#99005f"/>
<rect x="1395.10" y="958.60" width="28.80" height="112.40" fill="#000"/>
<rect x="1398.00" y="961.70" width="22.10" height="106.30" fill="#ffc000"/>
<rect x="1395.10" y="809.00" width="28.80" height="152.70" fill="#404040"/>
<rect x="1398.00" y="812.00" width="22.10" height="146.70" fill="#737171"/>
<rect x="1395.10" y="806.90" width="28.80" height="5.90" fill="#7b7979"/>
<rect x="1395.10" y="772.00" width="28.80" height="38.00" fill="#7b7979"/>
<rect x="1398.00" y="775.00" width="22.10" height="32.00" fill="#ececec"/>
<rect x="1459.20" y="1070.90" width="28.70" height="11.10" fill="#000"/>
<rect x="1462.10" y="1073.90" width="22.00" height="5.10" fill="#99005f"/>
<rect x="1459.20" y="1017.90" width="28.70" height="56.00" fill="#000"/>
<rect x="1462.10" y="1020.90" width="22.00" height="50.00" fill="#ffc000"/>
<rect x="1459.20" y="815.00" width="28.70" height="205.80" fill="#404040"/>
<rect x="1462.10" y="818.00" width="22.00" height="199.80" fill="#737171"/>
<rect x="1459.20" y="806.90" width="28.70" height="11.80" fill="#7b7979"/>
<rect x="1462.10" y="809.90" width="22.00" height="5.80" fill="#b4b4b4"/>
<rect x="1459.20" y="772.00" width="28.70" height="37.90" fill="#7b7979"/>
<rect x="1462.10" y="775.00" width="22.00" height="31.90" fill="#ececec"/>
<rect x="1374.3" y="1079.2" width="129.90" height="3.9" fill="#8e8e8e"/>
<rect x="1440.2" y="1081" width="2.8" height="3.2" fill="#8e8e8e"/>
<rect x="1502" y="1081.2" width="4.9" height="2.9" fill="#8e8e8e"/>
<path d="M1409.05 774 V757.4 H1472.95 V774" fill="none" stroke="#000" stroke-width="3.8" stroke-linejoin="bevel"/>
<rect x="1409" y="755" width="64" height="4.8" fill="#000"/>
<g fill="none" stroke="#000" stroke-width="3.4"><rect x="1371.3" y="1130.9" width="131.9" height="68.9"/><path d="M1437.3 1130.8V1199.7M1371.3 1165.2H1503.2"/></g>
</svg>
<div class="t pl" style="left:17.20px;top:10.00px;font-size:48px;">A</div>
<div class="t" style="left:496.50px;top:12.00px;font-size:24.5px;">5‘ UTR</div>
<div class="t" style="left:1097.60px;top:12.00px;font-size:24.5px;">CDS</div>
<div class="t m" style="left:335.70px;top:69.00px;font-size:21px;color:#111;transform:scaleX(1.1617);transform-origin:0 0;">gctttctccgtctgagaacgtgtgtgagatccataagctgcca<b class="bk">ATG</b>TATCTTCGTAGGGCTCTGAT</div>
<div class="t m" style="left:394.00px;top:124.00px;font-size:21px;color:#111;transform:scaleX(1.1617);transform-origin:0 0;">agaggcagactcttgcacacactct</div>
<div class="t m" style="left:818.80px;top:124.00px;font-size:21px;color:#111;transform:scaleX(1.1617);transform-origin:0 0;">attcgacggttacatagaagcatcc</div>
<div class="t" style="left:505.00px;top:158.00px;font-size:24.5px;">Pgam5 MO2</div>
<div class="t" style="left:933.20px;top:158.00px;font-size:24.5px;">Pgam5 MO1</div>
<div class="t m" style="left:394.00px;top:217.00px;font-size:21px;color:#111;transform:scaleX(1.1617);transform-origin:0 0;">agaggca<b class="rd">c</b>a<b class="rd">g</b>tctt<b class="rd">c</b>caca<b class="rd">g</b>a<b class="rd">g</b>tct</div>
<div class="t" style="left:481.50px;top:249.00px;font-size:24.5px;">Pgam5 5MM MO</div>
<div class="t m" style="left:1375.20px;top:61.00px;font-size:27.5px;font-weight:bold;transform:scaleX(1.124);transform-origin:0 0;"><i>pgam5</i>.S</div>
<div class="t pl" style="left:18.00px;top:400.00px;font-size:48px;transform:scaleX(0.95);transform-origin:0 0;">B</div>
<div class="t" style="left:466.50px;top:402.00px;font-size:24.5px;">5‘ UTR</div>
<div class="t" style="left:1068.00px;top:402.00px;font-size:24.5px;">CDS</div>
<div class="t m" style="left:158.70px;top:460.00px;font-size:21px;color:#111;transform:scaleX(1.1617);transform-origin:0 0;">ccgcttcatccgcctgaacctgtgtgtgtgagcgagagattcataagctgacg<b class="bk">ATG</b>TATCTTCGTAGGGCTCTGATgat</div>
<div class="t m" style="left:246.20px;top:514.00px;font-size:21px;color:#111;transform:scaleX(1.1617);transform-origin:0 0;">a<b class="rb">g</b>aggc<b class="rb">a</b>gact<b class="rb">cttg</b>cacacac<b class="rb">t</b>ct</div>
<div class="t m" style="left:789.00px;top:514.00px;font-size:21px;color:#111;transform:scaleX(1.1617);transform-origin:0 0;">attcgac<b class="rb">g</b>g<b class="rb">t</b>tacatagaagcatcc</div>
<div class="t" style="left:357.00px;top:548.00px;font-size:24.5px;">Pgam5 MO2</div>
<div class="t" style="left:903.20px;top:548.00px;font-size:24.5px;">Pgam5 MO1</div>
<div class="t m" style="left:1375.20px;top:451.00px;font-size:27.5px;font-weight:bold;transform:scaleX(1.124);transform-origin:0 0;"><i>pgam5</i>.L</div>
<div class="t bars" style="left:398.66px;top:92.44px;font-size:18.0px;letter-spacing:9.964px;transform-origin:0 2.16px;transform:scaleY(1.5248);"><i class="g">|</i><i class="r">|</i><i class="c">|</i><i class="g">|</i><i class="r">|</i><i class="c">|</i><i class="g">|</i><i class="r">|</i><i class="c">|</i><i class="g">|</i><i class="r">|</i><i class="c">|</i><i class="g">|</i><i class="r">|</i><i class="c">|</i><i class="g">|</i><i class="r">|</i><i class="c">|</i><i class="g">|</i><i class="r">|</i><i class="c">|</i><i class="g">|</i><i class="r">|</i><i class="c">|</i><i class="g">|</i></div>
<div class="t bars" style="left:823.66px;top:92.44px;font-size:18.0px;letter-spacing:9.964px;transform-origin:0 2.16px;transform:scaleY(1.5248);"><i class="c">|</i><i class="g">|</i><i class="r">|</i><i class="c">|</i><i class="g">|</i><i class="r">|</i><i class="c">|</i><i class="g">|</i><i class="r">|</i><i class="c">|</i><i class="g">|</i><i class="r">|</i><i class="c">|</i><i class="g">|</i><i class="r">|</i><i class="c">|</i><i class="g">|</i><i class="r">|</i><i class="c">|</i><i class="g">|</i><i class="r">|</i><i class="c">|</i><i class="g">|</i><i class="r">|</i><i class="c">|</i></div>
<div class="t bars" style="left:250.36px;top:482.44px;font-size:18.0px;letter-spacing:9.964px;transform-origin:0 2.16px;transform:scaleY(1.5248);"><i class="n">|</i><i class="sp"> </i><i class="v">|</i><i class="n">|</i><i class="b">|</i><i class="v">|</i><i class="sp"> </i><i class="b">|</i><i class="v">|</i><i class="n">|</i><i class="b">|</i><i class="sp"> </i><i class="sp"> </i><i class="sp"> </i><i class="sp"> </i><i class="n">|</i><i class="b">|</i><i class="v">|</i><i class="n">|</i><i class="b">|</i><i class="v">|</i><i class="n">|</i><i class="sp"> </i><i class="v">|</i><i class="n">|</i></div>
<div class="t bars" style="left:793.66px;top:482.44px;font-size:18.0px;letter-spacing:9.964px;transform-origin:0 2.16px;transform:scaleY(1.5248);"><i class="c">|</i><i class="g">|</i><i class="r">|</i><i class="c">|</i><i class="g">|</i><i class="r">|</i><i class="c">|</i><i class="sp"> </i><i class="r">|</i><i class="sp"> </i><i class="g">|</i><i class="r">|</i><i class="c">|</i><i class="g">|</i><i class="r">|</i><i class="c">|</i><i class="g">|</i><i class="r">|</i><i class="c">|</i><i class="g">|</i><i class="r">|</i><i class="c">|</i><i class="g">|</i><i class="r">|</i><i class="c">|</i></div>
<div class="t pl" style="left:15.00px;top:859.00px;font-size:48.5px;transform:scaleX(0.945);transform-origin:0 0;">C</div>
<div class="rot" style="left:194.20px;top:971.00px;"><div class="t " style="left:0;top:-25.73px;font-size:30.4px;">5MM Control MO</div></div>
<div class="rot" style="left:258.80px;top:970.50px;"><div class="t " style="left:0;top:-25.73px;font-size:30.4px;">Pgam5 MO1</div></div>
<div class="rot" style="left:319.20px;top:970.50px;"><div class="t " style="left:0;top:-25.73px;font-size:30.4px;">Pgam5 MO2</div></div>
<div class="t" style="left:72.00px;top:975.00px;font-size:23px;">37 kDa</div>
<div class="t" style="left:72.00px;top:1088.00px;font-size:23px;">37 kDa</div>
<div class="t" style="left:345.00px;top:1015.00px;font-size:30.4px;">Pgam5</div>
<div class="t" style="left:349.60px;top:1118.00px;font-size:30.4px;">Gapdh</div>
<div class="t pl" style="left:514.30px;top:767.00px;font-size:46px;transform:scaleX(0.96);transform-origin:0 0;">D</div>
<div class="t" style="left:854.50px;top:784.00px;font-size:27.6px;color:#fff;">Pgam5 MO2</div>
<div class="t" style="left:673.50px;top:990.00px;font-size:27.6px;color:#fff;">Pgam5 MO2 + <i>pgam5</i> RNA</div>
<div class="t" style="left:1122.80px;top:777.00px;font-size:21.8px;transform:scaleX(1.055);transform-origin:0 0;">short a/p axis</div>
<div class="t" style="left:1122.80px;top:806.00px;font-size:21.8px;transform:scaleX(1.055);transform-origin:0 0;">larger head</div>
<div class="t" style="left:1122.80px;top:835.00px;font-size:21.8px;transform:scaleX(1.055);transform-origin:0 0;">normal</div>
<div class="t" style="left:1122.80px;top:864.00px;font-size:21.8px;transform:scaleX(1.055);transform-origin:0 0;">small head</div>
<div class="t" style="left:1122.80px;top:893.00px;font-size:21.8px;transform:scaleX(1.055);transform-origin:0 0;">no head</div>
<div class="t" style="left:1428.8px;top:739.5px;font-size:28px;letter-spacing:1.5px;">**</div>
<div class="t" style="left:1330.50px;top:764.00px;font-size:22px;">100</div>
<div class="t" style="left:1342.74px;top:825.00px;font-size:22px;">80</div>
<div class="t" style="left:1342.74px;top:887.00px;font-size:22px;">60</div>
<div class="t" style="left:1342.74px;top:948.00px;font-size:22px;">40</div>
<div class="t" style="left:1342.74px;top:1010.00px;font-size:22px;">20</div>
<div class="rot" style="left:1311.30px;top:1055.50px;"><div class="t " style="left:0;top:-18.45px;font-size:21.8px;transform:scaleX(1.058);transform-origin:0 0;">phenotype frequency (%)</div></div>
<div class="t" style="left:1258.60px;top:1102.00px;font-size:21.6px;transform:scaleX(1.066);transform-origin:0 0;"># embryos</div>
<div class="t" style="left:1392.60px;top:1102.00px;font-size:21.6px;transform:scaleX(1.045);transform-origin:0 0;">138</div>
<div class="t" style="left:1459.30px;top:1102.00px;font-size:21.6px;transform:scaleX(1.066);transform-origin:0 0;">35</div>
<div class="t" style="left:1196.00px;top:1137.00px;font-size:27.6px;">Pgam5 MO2</div>
<div class="t" style="left:1200.00px;top:1171.00px;font-size:27.6px;"><i>pgam5</i> RNA</div>
<div class="t" style="left:1396.00px;top:1136.00px;font-size:27px;">+</div>
<div class="t" style="left:1462.00px;top:1136.00px;font-size:27px;">+</div>
<div class="t" style="left:1462.00px;top:1172.00px;font-size:27px;">+</div>
</div></body></html>
